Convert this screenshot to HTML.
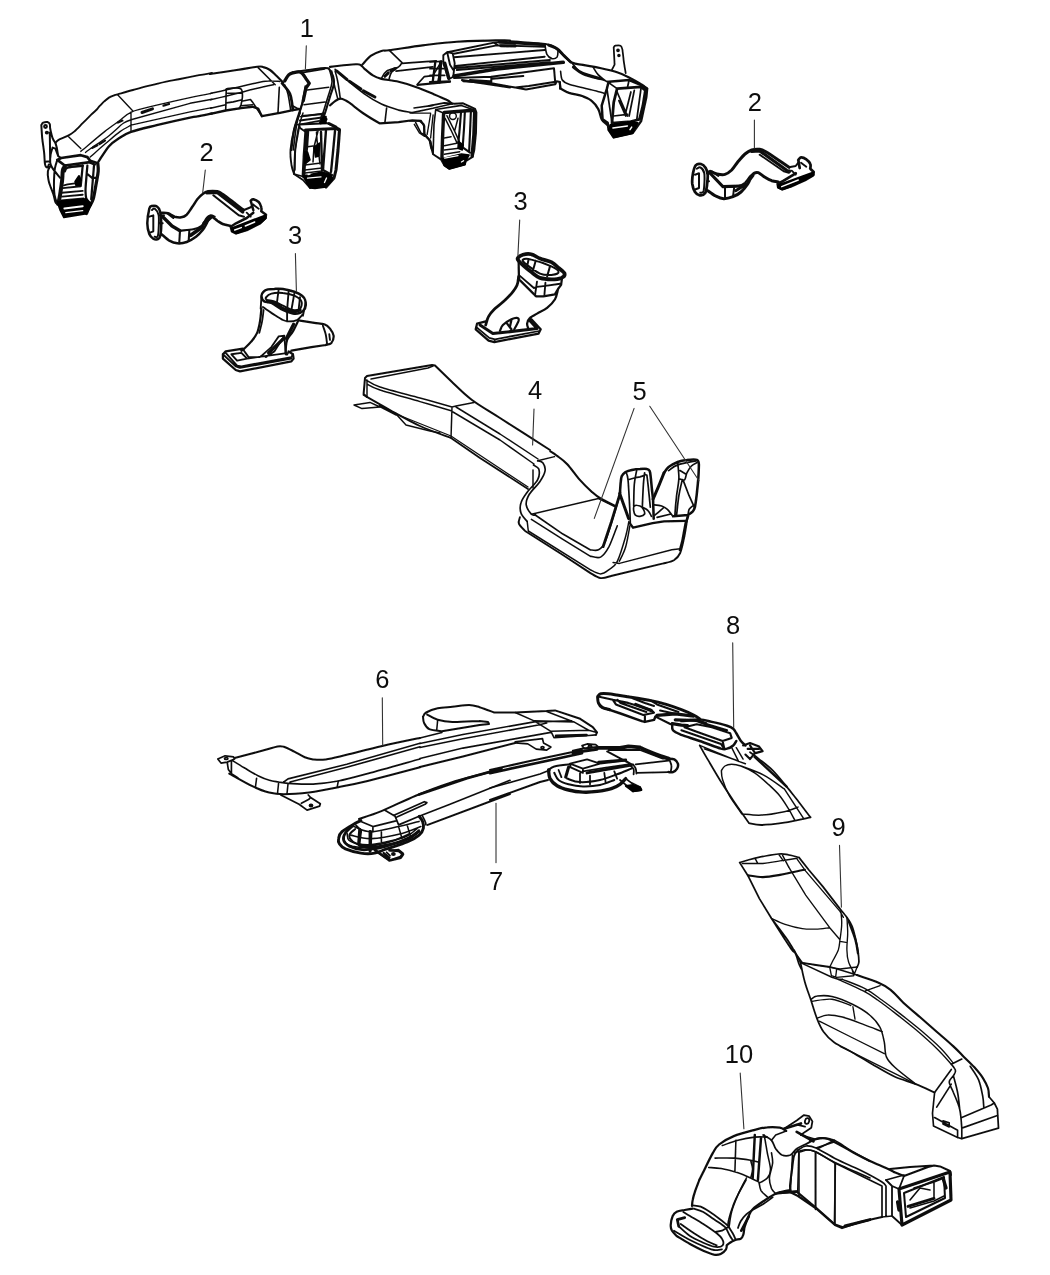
<!DOCTYPE html>
<html lang="en"><head><meta charset="utf-8"><title>Air Ducts Diagram</title>
<style>
html,body{margin:0;padding:0;background:#fff;}
body{width:1050px;height:1275px;overflow:hidden;}
svg{display:block;}
svg path,svg ellipse{stroke-linecap:round;stroke-linejoin:round;}
svg text{font-family:"Liberation Sans","DejaVu Sans",sans-serif;fill:#111;}
</style></head><body>
<svg width="1050" height="1275" viewBox="0 0 1050 1275">
<defs><filter id="soft" x="0" y="0" width="1050" height="1275" filterUnits="userSpaceOnUse"><feGaussianBlur stdDeviation="0.45"/></filter></defs>
<rect width="1050" height="1275" fill="#fff"/>
<g filter="url(#soft)">
<g id="p10a">
<path d="M699.2,1180.1C699.8,1179.0 700.1,1178.3 702.4,1173.8C704.7,1169.3 710.1,1157.7 712.9,1152.9C715.7,1148.0 715.7,1147.3 719.1,1144.5C722.6,1141.7 727.9,1138.5 733.8,1136.1C739.7,1133.7 749.2,1131.3 754.8,1129.8C760.3,1128.3 763.1,1127.6 767.3,1127.3C771.5,1126.9 776.8,1127.1 779.9,1127.7C783.0,1128.3 785.1,1130.3 786.2,1130.9M692.7,1208.7C691.3,1208.9 687.3,1209.5 684.7,1210.0C682.0,1210.5 678.7,1210.7 676.7,1211.7C674.7,1212.7 673.7,1213.7 672.7,1216.0C671.7,1218.3 670.8,1222.9 670.7,1225.3C670.6,1227.8 671.0,1228.9 672.0,1230.7C673.0,1232.4 675.9,1235.1 676.7,1236.0M676.7,1236.0C678.9,1237.3 685.6,1241.6 690.0,1244.0C694.4,1246.4 699.3,1248.9 703.3,1250.7C707.3,1252.4 711.1,1254.1 714.0,1254.7C716.9,1255.2 718.7,1254.9 720.7,1254.0C722.7,1253.1 725.0,1250.8 726.0,1249.3C727.0,1247.9 726.6,1246.0 726.7,1245.3M726.7,1245.3C727.2,1244.9 728.6,1243.6 730.0,1242.7C731.4,1241.8 733.6,1240.7 735.3,1240.0C737.1,1239.3 739.3,1239.6 740.7,1238.7C742.0,1237.8 742.7,1236.7 743.3,1234.7C744.0,1232.7 743.8,1229.8 744.7,1226.7C745.6,1223.6 747.3,1218.9 748.7,1216.0C750.0,1213.1 750.2,1211.8 752.7,1209.3C755.1,1206.9 759.3,1204.0 763.3,1201.3C767.3,1198.7 772.2,1195.2 776.7,1193.3C781.1,1191.4 787.8,1190.6 790.0,1190.0M699.3,1180.0C698.7,1181.8 696.4,1187.3 695.3,1190.7C694.2,1194.0 693.2,1197.4 692.7,1200.0C692.1,1202.6 692.1,1205.0 692.0,1206.0" stroke="#111" stroke-width="2.25" fill="none"/>
<path d="M763.1,1135.0C764.5,1135.9 769.4,1138.0 771.5,1140.3C773.6,1142.6 774.0,1146.2 775.7,1148.7C777.5,1151.1 779.6,1153.9 782.0,1155.0C784.4,1156.0 787.9,1156.0 790.4,1155.0C792.8,1153.9 794.2,1150.4 796.7,1148.7C799.1,1146.9 801.9,1146.0 805.0,1144.5C808.2,1142.9 812.7,1140.4 815.5,1139.2C818.3,1138.1 818.7,1137.6 821.8,1137.8C825.0,1137.9 829.5,1138.1 834.4,1140.3C839.3,1142.5 845.2,1147.3 851.1,1150.8C857.1,1154.3 866.9,1159.5 870.0,1161.2M678.7,1226.3C680.6,1227.9 685.9,1233.3 690.0,1236.0C694.1,1238.7 699.3,1240.9 703.3,1242.7C707.3,1244.4 711.1,1246.0 714.0,1246.7C716.9,1247.3 719.1,1247.1 720.7,1246.7C722.2,1246.2 723.1,1245.3 723.3,1244.0C723.6,1242.7 723.1,1240.4 722.0,1238.7C720.9,1236.9 719.8,1235.8 716.7,1233.3C713.6,1230.9 707.8,1226.9 703.3,1224.0C698.9,1221.1 693.3,1218.0 690.0,1216.0C686.7,1214.0 684.4,1212.7 683.3,1212.0M680.7,1224.0C682.9,1225.6 689.6,1230.4 694.0,1233.3C698.4,1236.2 703.6,1239.3 707.3,1241.3C711.1,1243.3 715.1,1244.7 716.7,1245.3M674.0,1230.7C676.7,1232.2 684.7,1237.2 690.0,1240.0C695.3,1242.8 702.0,1245.7 706.0,1247.3C710.0,1249.0 711.3,1249.7 714.0,1250.0C716.7,1250.3 720.7,1249.4 722.0,1249.3M692.7,1205.3C694.0,1205.6 697.8,1205.6 700.7,1206.7C703.6,1207.8 706.9,1210.0 710.0,1212.0C713.1,1214.0 716.7,1216.7 719.3,1218.7C722.0,1220.7 724.4,1222.7 726.0,1224.0C727.6,1225.3 728.2,1226.2 728.7,1226.7M694.0,1208.7C695.6,1209.2 700.0,1210.2 703.3,1212.0C706.7,1213.8 710.4,1216.9 714.0,1219.3C717.6,1221.8 722.6,1225.0 724.7,1226.7C726.8,1228.3 726.3,1228.9 726.7,1229.3M715.3,1232.0 L722.0,1230.7 L728.7,1226.7M728.7,1226.7C729.3,1227.8 731.6,1231.3 732.7,1233.3C733.8,1235.3 734.9,1237.8 735.3,1238.7M726.7,1229.3C727.2,1230.4 729.0,1234.2 730.0,1236.0C731.0,1237.8 732.2,1239.3 732.7,1240.0M738.0,1228.0C738.4,1226.9 739.3,1223.6 740.7,1221.3C742.0,1219.1 744.2,1216.4 746.0,1214.7C747.8,1212.9 748.4,1212.4 751.3,1210.7C754.2,1208.9 759.8,1206.2 763.3,1204.0C766.9,1201.8 771.1,1198.4 772.7,1197.3M784.1,1128.8 L796.7,1120.4 L804.0,1115.1 L809.2,1116.2 L812.4,1121.4 L811.3,1127.7 L805.0,1131.9 L800.9,1135.0M796.7,1124.6 L805.0,1126.7" stroke="#111" stroke-width="1.8" fill="none"/>
<path d="M786.2,1130.9 L775.7,1135.0 L771.5,1140.3M800.9,1135.0 L815.5,1139.2M722.3,1145.5C724.9,1144.7 732.6,1141.7 738.0,1140.3C743.4,1138.9 749.9,1137.7 754.8,1137.1C759.7,1136.6 765.2,1137.1 767.3,1137.1M794.6,1152.9C796.3,1152.3 801.6,1149.9 805.0,1149.7C808.5,1149.5 810.3,1149.5 815.5,1151.8C820.8,1154.1 827.4,1159.0 836.5,1163.3C845.6,1167.7 864.4,1175.6 870.0,1178.0M834.4,1140.3 L817.6,1148.7M792.5,1155.0 L790.4,1190.6M798.8,1152.9 L797.7,1192.7M815.5,1152.9 L815.5,1209.4M835.4,1163.3 L834.4,1224.1M715.0,1158.1C718.1,1158.1 727.9,1157.7 733.8,1158.1C739.7,1158.4 746.4,1159.5 750.6,1160.2C754.8,1160.9 757.6,1161.9 759.0,1162.3M708.7,1167.5C710.8,1167.7 716.3,1167.7 721.2,1168.6C726.1,1169.4 733.1,1171.2 738.0,1172.8C742.9,1174.3 747.1,1176.4 750.6,1178.0C754.1,1179.6 757.6,1181.5 759.0,1182.2M735.9,1140.3 L734.9,1171.7M764.2,1135.0C764.7,1138.0 766.3,1147.1 767.3,1152.9C768.4,1158.6 770.5,1165.4 770.5,1169.6C770.5,1173.8 769.3,1175.7 767.3,1178.0C765.4,1180.3 760.3,1182.4 759.0,1183.2M750.6,1160.2C750.9,1161.8 752.7,1166.7 752.7,1169.6C752.7,1172.6 750.9,1176.6 750.6,1178.0M771.5,1152.9C771.7,1154.6 772.9,1159.1 772.6,1163.3C772.2,1167.5 769.6,1173.8 769.4,1178.0C769.3,1182.2 770.5,1185.9 771.5,1188.5C772.6,1191.1 775.0,1192.8 775.7,1193.7M759.0,1182.2C759.3,1183.6 759.7,1188.1 761.0,1190.6C762.4,1193.0 766.3,1195.8 767.3,1196.9M746.4,1178.0C745.0,1180.8 740.4,1189.2 738.0,1194.8C735.6,1200.3 733.2,1206.3 731.7,1211.5C730.2,1216.8 729.6,1223.7 729.2,1226.2" stroke="#111" stroke-width="1.575" fill="none"/>
<path d="M775.7,1193.7 L796.7,1191.6 L815.5,1207.3 L834.4,1224.1 L842.8,1227.2 L870.0,1219.9" stroke="#111" stroke-width="2.025" fill="none"/>
<path d="M779.9,1192.7 L796.7,1191.6M844.9,1225.8 L870.0,1219.5M677.3,1219.6 L684.7,1217.6M677.3,1219.6 L678.7,1226.3M741.3,1230.7 L748.7,1216.7M784.1,1128.8 L800.9,1123.5M796.7,1131.9 L813.4,1141.3" stroke="#111" stroke-width="2.7" fill="none"/>
<path d="M754.8,1135.0 L752.7,1178.0M761.0,1138.2 L757.9,1180.1" stroke="#111" stroke-width="2.475" fill="none"/>
<path d="M746.0,1180.0C744.7,1182.4 740.2,1190.2 738.0,1194.7C735.8,1199.1 734.2,1202.4 732.7,1206.7C731.1,1210.9 729.4,1216.9 728.7,1220.0C727.9,1223.1 728.1,1224.4 728.0,1225.3" stroke="#111" stroke-width="1.6875" fill="none"/>
<ellipse cx="807.1" cy="1121.0" rx="2.1" ry="2.9" transform="rotate(15.0 807.1 1121.0)" stroke="#111" stroke-width="1.8" fill="none"/>
</g>
<g id="p10b">
<path d="M810.0,1141.0C811.7,1140.6 817.0,1138.7 820.0,1138.4C823.0,1138.1 824.7,1137.9 828.0,1139.0C831.3,1140.1 835.3,1142.5 840.0,1145.0C844.7,1147.5 851.0,1151.3 856.0,1154.0C861.0,1156.7 865.0,1158.7 870.0,1161.0C875.0,1163.3 882.0,1166.2 886.0,1168.0C890.0,1169.8 892.7,1171.3 894.0,1172.0M790.0,1192.0 L798.0,1196.0 L815.6,1208.0 L835.0,1225.0 L842.0,1228.0 L860.0,1222.0 L882.0,1217.0" stroke="#111" stroke-width="2.25" fill="none"/>
<path d="M798.0,1150.0C799.3,1149.3 803.0,1146.3 806.0,1146.0C809.0,1145.7 811.0,1145.8 816.0,1148.0C821.0,1150.2 828.7,1155.3 836.0,1159.0C843.3,1162.7 852.3,1166.2 860.0,1170.0C867.7,1173.8 877.7,1179.3 882.0,1182.0C886.3,1184.7 885.3,1185.3 886.0,1186.0M800.0,1152.0C801.3,1151.7 805.3,1150.0 808.0,1150.0C810.7,1150.0 811.5,1149.8 816.0,1152.0C820.5,1154.2 831.8,1161.2 835.0,1163.0M835.0,1163.0 L882.0,1186.0M816.0,1148.0 L834.0,1142.0M886.0,1180.0 L904.0,1175.0M882.0,1186.0 L882.0,1217.0M886.0,1186.0 L886.0,1216.0M882.0,1217.0 L892.0,1216.0" stroke="#111" stroke-width="1.6875" fill="none"/>
<path d="M798.0,1150.0C797.3,1151.0 795.0,1152.7 794.0,1156.0C793.0,1159.3 792.7,1165.0 792.0,1170.0C791.3,1175.0 790.2,1182.3 790.0,1186.0C789.8,1189.7 790.8,1191.0 791.0,1192.0M890.0,1169.0 L910.0,1167.0 L934.0,1165.6 L940.0,1166.4 L950.0,1171.0 L951.0,1175.0M894.0,1172.0 L904.0,1176.0 L928.0,1167.0 L934.0,1165.6M904.0,1193.0 L944.0,1177.0 L945.0,1198.0 L906.0,1217.0Z" stroke="#111" stroke-width="2.025" fill="none"/>
<path d="M799.0,1152.0 L799.0,1196.0M815.6,1152.0 L815.6,1208.0M835.0,1163.0 L835.0,1225.0M910.0,1200.0 L920.0,1188.0 L930.0,1190.0M914.0,1188.0 L934.0,1182.0 L944.0,1178.0M934.0,1182.0 L934.0,1198.0M910.0,1208.0 L934.0,1201.0 L944.0,1196.0" stroke="#111" stroke-width="1.575" fill="none"/>
<path d="M899.0,1189.0 L950.0,1172.0 L951.0,1200.0 L902.0,1225.0Z" stroke="#111" stroke-width="3.15" fill="none"/>
<path d="M892.0,1186.0 L899.0,1189.0M892.0,1186.0 L892.0,1216.0 L902.0,1225.0M886.0,1180.0 L892.0,1186.0M904.0,1176.0 L899.0,1189.0" stroke="#111" stroke-width="1.8" fill="none"/>
<path d="M908.0,1206.4 L934.0,1198.4" stroke="#111" stroke-width="2.9250000000000003" fill="none"/>
<path d="M897.6,1202.0 L899.0,1210.0M943.6,1180.0 L946.0,1188.0" stroke="#111" stroke-width="3.375" fill="none"/>
</g>
<g id="p1a">
<path d="M55.4,142.9C55.9,142.4 56.2,141.3 58.2,140.1C60.2,138.9 64.9,137.3 67.6,135.9C70.3,134.5 71.7,133.7 74.2,131.6C76.7,129.5 79.9,126.0 82.7,123.2C85.5,120.4 88.9,117.0 91.2,114.7C93.5,112.4 95.4,110.9 96.8,109.5C98.2,108.1 98.2,107.5 99.5,106.2C100.8,104.9 102.7,102.8 104.3,101.4C105.9,100.0 107.4,98.6 109.0,97.6C110.6,96.6 112.4,96.0 113.8,95.5C115.2,95.0 114.4,95.2 117.6,94.3C120.8,93.4 128.0,91.3 132.9,90.0C137.8,88.7 141.6,87.6 147.1,86.2C152.6,84.8 160.7,82.8 166.2,81.6C171.7,80.4 174.5,80.1 180.0,79.0C185.5,77.9 193.7,76.2 199.0,75.2C204.3,74.2 209.8,73.4 212.0,73.0M62.9,188.1 L80.8,186.2M62.0,192.8 L82.7,190.9M62.0,196.6 L82.7,194.7M61.1,200.4 L83.6,198.5M63.9,185.3 L67.6,184.4 L75.2,183.4" stroke="#111" stroke-width="1.875" fill="none"/>
<path d="M98.6,161.4C100.3,158.9 105.7,150.0 109.0,146.2C112.3,142.4 114.9,141.0 118.6,138.6C122.3,136.2 124.7,134.1 131.0,131.9C137.3,129.7 146.9,127.6 156.7,125.2C166.5,122.8 182.9,119.1 190.0,117.6C197.1,116.1 195.3,116.9 199.0,116.2C202.7,115.5 209.8,113.9 212.0,113.4" stroke="#111" stroke-width="2.375" fill="none"/>
<path d="M80.8,151.4C81.8,150.6 82.6,149.9 86.5,146.7C90.4,143.4 99.0,136.1 104.3,131.9C109.6,127.7 114.0,124.7 118.6,121.4C123.2,118.1 125.6,114.6 131.9,111.9C138.2,109.2 147.0,107.6 156.7,105.2C166.4,102.8 180.8,99.6 190.0,97.6C199.2,95.6 208.3,93.9 212.0,93.2M85.5,152.4C86.2,151.8 86.1,151.8 90.0,149.0C93.9,146.2 103.5,140.0 109.0,135.7C114.5,131.4 119.5,126.0 123.3,123.3C127.1,120.6 130.5,120.1 131.9,119.5M131.9,119.5 L190.0,103.3 L212.0,99.2M90.2,157.1C92.7,154.9 100.0,148.2 105.0,144.0C110.0,139.8 115.7,134.7 120.0,131.6C124.3,128.5 129.2,126.3 131.0,125.2M131.0,125.2 L190.0,111.9 L212.0,107.6M131.0,111.9 L131.0,131.9M117.6,94.8 L132.9,111.0M68.6,136.8 L80.8,148.6" stroke="#111" stroke-width="1.375" fill="none"/>
<path d="M142.0,112.5 L152.5,108.8" stroke="#111" stroke-width="3.0" fill="none"/>
<path d="M163.5,105.6 L169.0,104.0M118.0,122.6 L122.4,120.6M99.5,144.0 L105.0,140.6M92.5,147.8 L97.4,145.3M87.4,165.5C87.3,167.3 86.8,171.6 86.5,175.9C86.2,180.1 85.5,186.9 85.5,190.9C85.5,195.0 86.3,198.8 86.5,200.4M82.7,165.5 L80.8,185.3M90.2,162.7 L94.9,164.6M87.4,174.0 L92.1,177.8 L95.9,177.8M94.0,165.5 L91.2,199.4" stroke="#111" stroke-width="2.25" fill="none"/>
<path d="M41.3,125.1C41.6,124.7 42.2,123.2 43.2,122.7C44.2,122.2 46.3,121.8 47.4,122.0C48.5,122.3 49.3,123.0 49.8,124.1C50.2,125.2 49.8,126.5 50.2,128.8C50.7,131.2 51.7,135.9 52.6,138.2C53.5,140.6 54.9,142.2 55.4,142.9M41.3,125.1C41.5,127.3 41.8,133.7 42.2,138.2C42.7,142.8 43.6,148.0 44.1,152.4C44.6,156.7 44.5,162.1 45.1,164.6C45.6,167.1 46.8,167.4 47.4,167.4C48.0,167.4 48.6,165.1 48.8,164.6M49.8,132.6 L50.2,162.7M45.5,161.8 L49.8,161.3M52.6,147.6 L55.4,148.6 L58.2,156.1 L61.1,158.0M52.6,147.6C52.3,148.7 51.1,151.7 50.7,154.2C50.3,156.7 49.9,160.4 50.2,162.7C50.5,165.1 50.9,165.8 52.6,168.4C54.2,170.9 58.9,176.2 60.1,177.8M50.2,166.5C49.8,167.3 48.2,169.0 47.9,171.2C47.6,173.4 47.9,177.0 48.4,179.6C48.8,182.3 49.8,184.7 50.7,187.2C51.6,189.7 52.7,192.2 53.5,194.7C54.3,197.2 54.8,200.7 55.4,202.2C56.0,203.8 57.0,203.8 57.3,204.1M57.3,159.9C56.9,161.3 55.5,164.9 54.9,168.4C54.4,171.8 54.1,176.2 54.0,180.6C53.9,185.0 53.9,190.8 54.5,194.7C55.0,198.6 56.8,202.5 57.3,204.1M55.4,142.9 L56.8,147.6 L58.2,156.1" stroke="#111" stroke-width="2.0" fill="none"/>
<path d="M57.3,159.9 L61.1,158.0 L80.8,155.2 L87.4,157.1 L90.2,160.8 L97.8,163.2M57.3,159.9 L64.8,165.5 L90.2,162.2" stroke="#111" stroke-width="2.75" fill="none"/>
<path d="M65.0,166.0C64.7,166.7 63.4,167.6 62.9,170.2C62.4,172.8 62.5,177.5 62.0,181.5C61.5,185.6 60.7,190.9 60.1,194.7C59.5,198.5 58.5,202.5 58.2,204.1" stroke="#111" stroke-width="4.0" fill="none"/>
<path d="M64.8,171.2C65.3,170.6 64.7,168.5 67.6,167.6C70.6,166.7 80.2,166.0 82.7,165.7" stroke="#111" stroke-width="2.5" fill="none"/>
<path d="M97.8,163.2C97.8,164.5 98.5,167.5 98.2,171.2C97.9,174.9 96.7,180.6 95.9,185.3C95.0,190.0 94.2,195.8 93.1,199.4C92.0,203.0 90.4,204.6 89.3,206.9C88.2,209.3 86.9,212.4 86.5,213.5" stroke="#111" stroke-width="3.25" fill="none"/>
<path d="M57.3,201.8 L86.5,198.9 L91.2,204.1 L86.5,213.5 L63.9,217.3 L60.1,209.8ZM75.2,181.5 L78.9,175.9 L80.8,179.6 L79.9,185.3 L76.1,185.3Z" stroke="#000" stroke-width="1.875" fill="#000"/>
<path d="M64.4,208.4 L82.7,206.2" stroke="#fff" stroke-width="2.0" fill="none"/>
<path d="M65.8,212.6 L82.7,210.7" stroke="#fff" stroke-width="1.25" fill="none"/>
<ellipse cx="45.5" cy="126.5" rx="1.4" ry="1.4" transform="rotate(0.0 45.5 126.5)" stroke="#111" stroke-width="2.0" fill="none"/>
<ellipse cx="46.9" cy="132.6" rx="1.1" ry="0.9" transform="rotate(0.0 46.9 132.6)" stroke="#111" stroke-width="2.0" fill="none"/>
</g>
<g id="p1b">
<path d="M210.0,74.0C214.4,73.3 228.8,71.2 236.7,70.0C244.6,68.8 252.9,67.2 257.3,66.7C261.8,66.2 261.2,66.5 263.3,67.1C265.4,67.6 267.8,68.5 270.0,70.0C272.2,71.5 274.4,73.9 276.7,76.0C278.9,78.1 282.2,81.6 283.3,82.7M303.3,100.7C302.4,103.3 299.6,111.8 298.0,116.7C296.4,121.6 295.1,124.4 294.0,130.0C292.9,135.6 291.8,146.7 291.3,150.0M292.7,72.4C295.3,72.0 303.3,70.7 308.7,70.0C314.0,69.3 321.1,68.0 324.7,68.0C328.2,68.0 328.4,67.9 330.0,70.3C331.6,72.6 334.0,77.6 334.0,82.0C334.0,86.4 331.6,91.3 330.0,96.7C328.4,102.0 326.2,109.6 324.7,114.0C323.1,118.4 321.3,121.8 320.7,123.3" stroke="#111" stroke-width="2.125" fill="none"/>
<path d="M258.1,67.6 L275.2,84.8M210.5,93.5C213.0,92.9 218.1,91.8 225.7,90.0C233.3,88.2 249.0,84.4 256.2,82.9C263.3,81.3 264.6,81.2 268.6,81.0C272.5,80.7 278.1,81.3 280.0,81.4M210.5,99.8C213.0,99.2 220.3,97.5 225.7,96.2C231.1,94.9 237.8,93.2 242.9,91.9C247.9,90.6 251.1,89.8 256.2,88.6C261.3,87.4 270.5,85.4 273.3,84.8M210.5,108.2 L225.7,104.8" stroke="#111" stroke-width="1.5" fill="none"/>
<path d="M210.5,113.9 L225.7,110.5 L241.0,108.1 L252.4,106.7M252.4,106.7 L258.1,108.6 L261.9,116.2M261.9,116.2 L277.1,113.3 L280.0,112.9M280.0,112.9 L293.0,110.2 L299.0,109.0" stroke="#111" stroke-width="2.375" fill="none"/>
<path d="M242.9,101.0 L250.5,99.5 L252.4,101.9 L261.9,116.2M225.7,90.0C226.0,89.8 225.4,88.9 227.6,88.6C229.8,88.3 236.7,87.8 239.0,88.1C241.4,88.4 241.3,89.0 241.9,90.5C242.5,92.0 242.5,94.8 242.4,97.1C242.2,99.5 241.5,102.9 241.0,104.8C240.4,106.7 239.4,107.9 239.0,108.6M226.2,90.5 L225.7,110.5M227.6,93.3 L241.0,93.3M226.7,102.9 L233.3,101.9 L241.0,100.0M241.0,105.7 L252.4,104.8M279.3,87.3 L278.0,112.7M284.7,84.9C285.2,86.4 287.0,89.8 288.0,94.0C289.0,98.2 290.2,107.3 290.7,110.0M292.9,106.0 L298.0,108.7M300.7,72.9 L324.7,68.9M307.3,90.0 L328.7,87.3M304.0,104.7 L324.9,102.0M300.7,116.7 L321.3,113.7M298.0,124.7 L319.3,120.9M305.3,86.0C304.8,88.9 303.4,96.9 302.0,103.3C300.6,109.8 298.1,116.9 296.7,124.7C295.2,132.4 293.9,145.8 293.3,150.0M330.0,71.3C330.3,73.1 332.3,77.8 332.0,82.0C331.7,86.2 329.6,91.3 328.0,96.7C326.4,102.0 323.6,111.1 322.7,114.0" stroke="#111" stroke-width="1.625" fill="none"/>
<path d="M282.0,83.3C283.3,85.1 288.2,89.6 290.0,94.0C291.8,98.4 292.4,107.3 292.9,110.0" stroke="#111" stroke-width="2.75" fill="none"/>
<path d="M284.7,80.9C285.3,79.9 287.3,76.3 288.7,74.9C290.0,73.6 290.7,73.4 292.7,72.9C294.7,72.5 298.4,71.3 300.7,72.3C302.9,73.2 304.6,76.8 306.0,78.7C307.4,80.5 308.8,82.6 309.3,83.3M309.3,83.3 L306.0,88.0 L303.3,100.7" stroke="#111" stroke-width="3.25" fill="none"/>
<path d="M322.7,114.0 L320.7,122.0 L326.0,119.3" stroke="#111" stroke-width="3.125" fill="none"/>
</g>
<g id="p1c">
<path d="M300.0,113.0C299.0,115.8 295.6,123.8 294.0,130.0C292.4,136.2 290.9,144.2 290.5,150.0C290.1,155.8 290.9,161.0 291.5,165.0C292.1,169.0 293.6,172.5 294.0,174.0M294.0,174.0 L303.0,180.0 L310.0,188.0" stroke="#111" stroke-width="1.87" fill="none"/>
<path d="M303.0,113.0C302.2,115.8 299.2,123.8 298.0,130.0C296.8,136.2 296.0,143.3 295.5,150.0C295.0,156.7 295.1,166.7 295.0,170.0" stroke="#111" stroke-width="1.43" fill="none"/>
<path d="M299.0,124.5 L327.0,123.2 L339.5,129.0M299.0,124.5 L300.0,128.0 L305.5,131.8M300.0,120.5 L322.0,117.5M302.0,116.0 L323.0,114.0" stroke="#111" stroke-width="1.98" fill="none"/>
<path d="M305.5,130.0 L336.0,128.5 L339.5,130.0 L338.0,150.0 L336.0,170.0 L334.0,178.0 L326.0,187.0" stroke="#111" stroke-width="3.08" fill="none"/>
<path d="M306.2,132.0 L304.5,156.0 L303.5,176.0" stroke="#111" stroke-width="3.74" fill="none"/>
<path d="M329.0,123.5 L336.0,127.0" stroke="#111" stroke-width="2.86" fill="none"/>
<path d="M299.0,128.0 L295.0,150.0 L294.0,174.0M294.0,174.0 L303.0,176.5" stroke="#111" stroke-width="1.76" fill="none"/>
<path d="M308.0,132.0 L307.0,147.0 L305.0,165.0M335.0,131.0 L333.0,152.0 L331.0,172.0M326.0,130.0 L324.5,150.0 L323.0,170.0M321.0,132.0 L321.5,150.0 L322.0,170.0M323.0,170.0 L332.0,175.0" stroke="#111" stroke-width="2.42" fill="none"/>
<path d="M318.0,131.0 L314.0,147.0 L313.0,162.0M316.5,132.0 L317.0,140.0 L320.0,164.0M306.0,147.0 L313.0,146.0M305.0,165.0 L321.0,163.0M305.0,170.0 L322.0,168.0M305.0,173.0 L322.0,171.0" stroke="#111" stroke-width="1.54" fill="none"/>
<path d="M314.0,147.0 L319.5,143.0 L319.0,156.0 L315.5,157.0ZM304.5,152.0 L307.5,152.0 L310.0,160.0 L305.0,164.0ZM303.0,176.0 L322.0,172.0 L331.0,175.0 L333.0,179.0 L326.0,187.0 L315.0,188.5 L310.0,188.0ZM323.0,117.0 L326.0,116.5 L326.0,123.2 L320.0,123.2Z" stroke="#000" stroke-width="1.54" fill="#000"/>
<path d="M307.5,178.2 L321.0,176.8M324.5,182.5 L326.5,178.0M308.0,174.5 L310.0,174.2" stroke="#fff" stroke-width="1.32" fill="none"/>
</g>
<g id="p1d">
<path d="M330.0,66.9C334.3,66.4 350.6,64.5 355.7,64.3C360.9,64.0 359.4,64.6 360.9,65.3C362.3,66.0 362.3,66.9 364.3,68.6C366.3,70.3 370.0,73.7 372.9,75.4C375.7,77.1 377.1,77.8 381.4,78.9C385.7,79.9 392.9,80.4 398.6,81.8C404.3,83.1 410.0,84.9 415.7,86.9C421.4,88.9 427.7,91.6 432.9,93.8C438.0,95.9 443.4,98.1 446.6,99.8C449.8,101.4 451.1,103.1 452.1,103.7M362.6,64.3C364.0,62.9 368.0,57.9 371.1,55.7C374.3,53.5 378.4,51.8 381.4,50.9C384.4,50.0 382.3,51.1 389.1,50.2C396.0,49.3 411.3,46.9 422.6,45.4C433.9,44.0 443.7,42.5 456.9,41.7C470.0,40.8 492.6,40.5 501.4,40.3C510.3,40.1 508.6,40.6 510.0,40.6M330.0,105.4C330.9,104.7 333.4,102.3 335.1,101.1C336.9,100.0 338.6,98.7 340.3,98.6C342.0,98.4 343.7,99.4 345.4,100.3C347.1,101.1 347.4,101.4 350.6,103.7C353.7,106.0 359.4,110.7 364.3,114.0C369.1,117.3 377.1,121.9 379.7,123.4M379.7,123.4 L398.6,122.1 L412.3,120.3 L420.9,120.9M420.9,120.9 L424.3,126.0 L424.3,134.6 L429.4,139.7 L432.9,150.0M417.4,84.9 L450.0,81.8M462.0,80.1 L510.0,87.4" stroke="#111" stroke-width="2.125" fill="none"/>
<path d="M389.1,50.2 L402.0,62.6M402.0,62.6C401.4,63.3 401.1,65.4 398.6,66.9C396.0,68.3 389.4,69.2 386.6,71.1C383.7,73.1 382.3,77.1 381.4,78.3M398.6,66.9C397.4,67.7 393.3,70.0 391.7,72.0C390.1,74.0 389.6,77.7 389.1,78.9M335.1,69.4C337.1,71.2 342.3,76.0 347.1,80.1C352.0,84.1 358.6,89.8 364.3,93.8C370.0,97.8 375.7,101.3 381.4,104.1C387.1,106.8 393.4,108.6 398.6,110.1C403.7,111.5 410.0,112.2 412.3,112.6M412.3,112.6 L432.9,108.3 L452.1,103.7M340.3,98.6C339.9,95.7 338.6,86.0 337.7,81.4C336.9,76.9 335.6,72.9 335.1,71.1M337.7,98.6C337.1,96.3 335.3,89.4 334.3,84.9C333.3,80.3 332.1,73.4 331.7,71.1M386.6,108.0 L384.9,122.6M414.0,108.0 L432.9,105.4M415.7,122.6 L420.9,132.9 L426.0,135.4M402.0,63.4 L436.3,60.9M396.0,71.1 L432.9,66.9M417.4,84.3 L424.3,76.6 L432.9,75.6 L439.7,64.3 L441.4,61.2M432.9,75.6 L432.9,81.4M439.7,72.9 L438.0,81.4" stroke="#111" stroke-width="1.625" fill="none"/>
<path d="M336.9,71.1 L347.1,79.7M349.7,81.4 L360.9,89.1M363.4,90.9 L374.9,97.0M384.9,76.3 L388.3,72.9M390.9,71.1 L395.1,68.6" stroke="#111" stroke-width="3.0" fill="none"/>
</g>
<g id="p1e">
<path d="M428.9,105.9 L444.3,102.9 L454.6,103.7 L463.1,103.3 L475.1,108.9 L476.4,112.3 L476.0,132.9 L474.3,150.0 L472.6,156.9 L465.7,161.1 L464.9,164.6 L449.4,168.9 L444.3,165.4 L440.9,159.4 L433.1,154.3 L430.6,145.7 L429.7,140.6" stroke="#111" stroke-width="1.9124999999999999" fill="none"/>
<path d="M435.7,109.7 L434.0,124.3 L433.1,154.3M435.7,109.5 L461.4,105.4 L473.4,109.7M435.7,109.7 L443.4,113.1" stroke="#111" stroke-width="1.59375" fill="none"/>
<path d="M443.6,113.6 L442.6,136.3 L441.9,158.6M444.3,112.5 L473.4,110.2M474.7,111.4 L473.9,134.6 L472.1,156.0" stroke="#111" stroke-width="3.4" fill="none"/>
<path d="M464.9,111.4 L464.0,128.6 L462.7,146.6M461.0,112.3 L459.7,128.6 L458.4,142.3M470.9,111.4 L470.0,132.9 L469.1,151.7M462.7,147.4 L470.0,152.6" stroke="#111" stroke-width="2.125" fill="none"/>
<path d="M445.1,118.3 L451.1,130.3 L457.1,143.1M446.9,115.7 L454.6,131.1 L459.3,141.4M444.3,138.0 L451.1,136.7M444.3,145.7 L458.0,143.1M444.3,150.0 L458.9,148.3M444.3,154.3 L459.7,151.7M458.0,118.3 L454.6,131.1" stroke="#111" stroke-width="1.4875" fill="none"/>
<path d="M441.9,158.6 L461.4,153.9 L469.1,155.1 L465.7,161.1 L464.9,164.6 L449.4,168.9 L444.3,165.4ZM458.4,141.4 L463.1,144.9 L462.3,150.0 L458.0,148.3Z" stroke="#000" stroke-width="1.4875" fill="#000"/>
<path d="M444.7,158.1 L458.0,155.6M461.4,162.0 L463.6,160.7" stroke="#fff" stroke-width="1.275" fill="none"/>
<path d="M410.0,120.9 L419.4,120.9 L423.7,124.3 L424.6,134.6 L430.6,141.4 L431.4,148.3" stroke="#111" stroke-width="1.80625" fill="none"/>
<path d="M414.3,124.3 L419.4,132.9 L424.6,136.3M430.6,114.0 L427.1,134.6M433.1,114.9 L430.6,138.0M410.0,113.1 L430.6,113.1" stroke="#111" stroke-width="1.3812499999999999" fill="none"/>
<ellipse cx="452.9" cy="116.1" rx="3.4" ry="3.4" transform="rotate(0.0 452.9 116.1)" stroke="#111" stroke-width="1.4875" fill="none"/>
</g>
<g id="p1f">
<path d="M510.0,41.3C512.1,41.4 517.0,41.8 522.9,42.3C528.7,42.7 540.3,43.4 545.1,44.0C550.0,44.6 549.7,44.6 552.0,45.7C554.3,46.9 556.6,48.9 558.9,50.9C561.1,52.9 563.4,55.7 565.7,57.7C568.0,59.7 569.7,61.7 572.6,62.9C575.4,64.1 578.3,64.1 582.9,64.9C587.4,65.8 594.3,66.8 600.0,68.0C605.7,69.2 612.3,70.7 617.1,72.3C622.0,73.9 625.1,75.4 629.1,77.4C633.1,79.4 638.1,82.4 641.1,84.3C644.1,86.1 646.1,87.9 647.1,88.6M559.7,82.6 L560.6,88.6M560.6,88.6C562.0,89.3 565.4,91.6 569.1,92.9C572.9,94.1 579.1,95.0 582.9,96.3C586.6,97.6 588.9,98.4 591.4,100.6C594.0,102.7 596.6,106.0 598.3,109.1C600.0,112.3 600.3,116.9 601.7,119.4C603.1,122.0 606.0,123.7 606.9,124.6" stroke="#111" stroke-width="2.25" fill="none"/>
<path d="M548.6,45.2C550.0,45.8 554.6,46.9 557.1,48.6C559.7,50.3 561.7,53.2 564.0,55.5C566.3,57.8 569.7,61.2 570.9,62.3M617.1,88.6 L641.1,86.9 L645.4,90.3 L642.9,105.7 L639.4,119.4 L630.9,121.5 L612.0,123.2 L613.7,102.3 L617.1,88.6" stroke="#111" stroke-width="2.75" fill="none"/>
<path d="M545.1,45.7C545.4,47.1 545.7,52.1 546.9,54.3C548.0,56.4 550.3,58.1 552.0,58.6C553.7,59.0 556.1,58.1 557.1,56.9C558.1,55.6 557.9,51.9 558.0,50.9M560.6,71.4C560.9,72.9 560.9,77.9 562.3,80.0C563.7,82.1 565.7,83.0 569.1,84.3C572.6,85.6 577.7,86.4 582.9,87.7C588.0,89.0 596.3,91.0 600.0,92.0C603.7,93.0 604.3,93.4 605.1,93.7M572.6,63.7C573.7,65.0 576.3,69.3 579.4,71.4C582.6,73.6 588.0,75.3 591.4,76.6C594.9,77.9 596.9,78.1 600.0,79.1C603.1,80.1 608.6,82.0 610.3,82.6M593.1,67.1C594.0,68.4 596.0,72.4 598.3,74.9C600.6,77.3 605.4,80.6 606.9,81.7" stroke="#111" stroke-width="1.625" fill="none"/>
<path d="M573.4,67.1C575.0,68.2 578.4,71.6 582.9,73.5C587.3,75.4 597.1,77.8 600.0,78.6" stroke="#111" stroke-width="3.0" fill="none"/>
<path d="M613.7,47.4C614.0,47.1 614.3,46.0 615.4,45.7C616.6,45.4 619.4,45.1 620.6,45.7C621.7,46.3 621.7,46.3 622.3,49.1C622.9,52.0 623.4,58.9 624.0,62.9C624.6,66.9 625.4,71.4 625.7,73.1M613.7,47.4 L614.6,64.6 L612.0,69.7M608.6,82.6 L617.1,88.6M606.9,88.6 L612.0,122.9M618.9,100.6 L625.7,116.0M617.1,92.0 L627.4,116.0M630.9,92.0 L625.7,112.6M634.3,90.3 L629.1,116.0M641.1,87.7 L636.9,118.6M613.7,116.0 L627.4,114.3M629.1,80.0 L627.4,87.7" stroke="#111" stroke-width="1.75" fill="none"/>
<path d="M608.6,81.7 L629.1,80.0 L641.1,85.1 L647.1,88.6 L646.3,97.1 L641.1,121.1 L632.6,133.1 L613.7,137.4 L608.6,129.7 L607.7,122.9 L602.6,119.4 L601.7,105.7 L606.9,88.6 L608.6,81.7" stroke="#111" stroke-width="2.5" fill="none"/>
<path d="M610.3,124.9 L630.9,121.5 L637.7,122.9 L632.6,133.1 L613.7,137.4 L608.6,129.7Z" stroke="#000" stroke-width="1.75" fill="#000"/>
<path d="M612.9,128.0 L627.4,125.9M630.0,129.7 L631.7,127.1" stroke="#fff" stroke-width="1.5" fill="none"/>
<ellipse cx="618.0" cy="50.3" rx="1.0" ry="1.0" transform="rotate(0.0 618.0 50.3)" stroke="#111" stroke-width="1.75" fill="none"/>
<ellipse cx="618.9" cy="55.5" rx="0.9" ry="0.9" transform="rotate(0.0 618.9 55.5)" stroke="#111" stroke-width="1.75" fill="none"/>
</g>
<g id="p1g">
<path d="M448.7,52.0 L494.0,42.7 L499.3,42.0M452.7,54.0 L496.7,45.3 L544.7,46.7M494.0,42.7 L498.0,45.3M454.0,57.3 L544.7,50.0M455.3,66.0 L544.7,56.7M455.3,68.0 L550.0,60.0M456.7,70.0 L550.0,62.3M443.3,55.3 L447.3,52.0 L452.7,53.3 L454.7,63.3 L453.3,76.7 L448.7,79.3 L443.3,63.3ZM447.3,52.7 L450.0,64.7 L453.3,70.0" stroke="#111" stroke-width="1.875" fill="none"/>
<path d="M499.3,42.3 L512.7,42.7 L544.7,44.7M500.7,45.7 L515.3,46.0" stroke="#111" stroke-width="3.0" fill="none"/>
<path d="M444.7,63.3 L448.7,78.0M454.0,76.0 L496.7,68.9 L563.3,62.3" stroke="#111" stroke-width="3.5" fill="none"/>
<path d="M454.0,78.0 L491.3,76.7 L491.3,83.3M463.3,81.3 L491.3,83.3 L515.3,87.6 L526.0,89.6 L555.3,84.3 L556.7,81.3 L560.0,82.0 L560.0,88.7M491.3,76.7 L554.0,68.3 L555.3,83.3M492.7,78.7 L523.3,76.0M515.3,87.6 L528.7,86.0 L554.0,82.0M470.0,80.0 L490.0,81.3" stroke="#111" stroke-width="2.0" fill="none"/>
<path d="M430.0,62.0 L442.0,61.3M430.0,68.7 L443.3,68.7M430.0,75.3 L444.7,75.3" stroke="#111" stroke-width="1.75" fill="none"/>
<path d="M430.0,82.0 L450.0,81.3M435.3,62.0 L432.7,82.0" stroke="#111" stroke-width="2.25" fill="none"/>
<path d="M440.7,62.0 L439.3,82.0" stroke="#111" stroke-width="3.25" fill="none"/>
</g>
<g id="p2a">
<path d="M162.0,212.7C163.0,212.8 165.9,212.7 168.0,213.3C170.1,214.0 172.4,216.0 174.7,216.7C176.9,217.3 179.3,217.7 181.3,217.3C183.3,217.0 184.9,216.3 186.7,214.7C188.4,213.0 190.2,209.9 192.0,207.3C193.8,204.8 195.6,201.6 197.3,199.3C199.1,197.1 200.9,195.3 202.7,194.0C204.4,192.7 205.6,191.8 208.0,191.3C210.4,190.9 214.9,190.9 217.3,191.3C219.8,191.8 220.0,192.2 222.7,194.0C225.3,195.8 229.8,199.3 233.3,202.0C236.9,204.7 242.2,208.7 244.0,210.0M161.3,234.0C162.7,235.1 166.7,239.1 169.3,240.7C172.0,242.2 174.4,243.1 177.3,243.3C180.2,243.6 183.6,243.1 186.7,242.0C189.8,240.9 193.3,238.7 196.0,236.7C198.7,234.7 200.9,232.2 202.7,230.0C204.4,227.8 205.6,225.3 206.7,223.3C207.8,221.3 208.4,219.1 209.3,218.0C210.2,216.9 210.7,216.2 212.0,216.7C213.3,217.1 215.6,219.4 217.3,220.7C219.1,221.9 220.4,223.1 222.7,224.0C224.9,224.9 229.3,225.7 230.7,226.0M149.3,208.7C150.1,205.8 150.7,206.3 152.0,206.0C153.3,205.7 156.0,205.8 157.3,206.7C158.7,207.6 159.3,208.6 160.0,211.3C160.7,214.1 161.3,219.1 161.3,223.3C161.3,227.6 160.7,234.0 160.0,236.7C159.3,239.3 158.4,239.0 157.3,239.3C156.2,239.7 154.7,239.6 153.3,238.7C152.0,237.8 150.3,236.6 149.3,234.0C148.3,231.4 147.3,227.6 147.3,223.3C147.3,219.1 148.6,211.6 149.3,208.7ZM250.7,200.7C251.1,200.4 252.0,199.1 253.3,199.3C254.7,199.6 257.3,200.7 258.7,202.0C260.0,203.3 260.9,205.8 261.3,207.3C261.8,208.9 261.3,210.7 261.3,211.3M261.3,211.3 L266.0,214.7 L265.3,218.0 L260.0,223.3 L246.7,230.0 L236.0,233.3 L232.0,231.3 L230.7,226.7 L236.0,223.3 L246.7,218.0 L253.3,212.7M250.7,200.7 L253.3,210.0" stroke="#111" stroke-width="2.5200000000000005" fill="none"/>
<path d="M206.7,192.7 L217.3,192.4 L242.7,212.0M162.7,216.7 L172.0,226.0 L180.0,230.7" stroke="#111" stroke-width="3.3600000000000003" fill="none"/>
<path d="M213.3,195.3 L238.7,215.3 L244.0,216.7M180.0,230.7C182.2,230.4 189.8,230.1 193.3,229.3C196.9,228.6 199.1,227.9 201.3,226.0C203.6,224.1 205.1,219.8 206.7,218.0C208.2,216.2 209.3,215.6 210.7,215.3C212.0,215.1 214.0,216.4 214.7,216.7M180.0,230.7 L179.3,242.0M189.3,231.3 L188.7,240.7M168.0,214.0 L173.3,218.0M244.0,210.0 L250.7,207.3 L253.3,204.7" stroke="#111" stroke-width="2.1" fill="none"/>
<path d="M204.0,223.3 L210.7,217.3M190.7,235.3 L202.7,226.7" stroke="#111" stroke-width="3.6400000000000006" fill="none"/>
<path d="M152.0,210.0C152.4,209.8 153.6,207.8 154.7,208.7C155.8,209.6 158.1,210.9 158.7,215.3C159.2,219.8 158.7,231.8 158.0,235.3C157.3,238.9 155.2,236.4 154.7,236.7M149.3,216.7 L153.3,215.3 L153.3,231.3 L150.0,232.7M160.0,215.3 L164.0,215.3M160.0,223.3 L162.7,223.3" stroke="#111" stroke-width="1.9600000000000002" fill="none"/>
<path d="M253.3,204.7 L258.7,208.7M246.7,212.7 L250.7,216.7" stroke="#111" stroke-width="1.8200000000000003" fill="none"/>
<path d="M232.0,228.0 L265.3,215.3 L266.0,218.0 L260.0,223.3 L246.7,230.0 L236.0,233.3 L232.0,231.3Z" stroke="#000" stroke-width="1.8200000000000003" fill="#000"/>
<path d="M234.7,230.0 L241.3,227.6M245.3,226.0 L254.7,222.0" stroke="#fff" stroke-width="1.54" fill="none"/>
</g>
<g id="p2b">
<path d="M710.3,171.3C711.4,171.8 714.6,173.5 717.0,174.0C719.4,174.5 722.6,175.1 725.0,174.4C727.4,173.7 729.4,172.2 731.7,170.0C733.9,167.8 736.1,164.0 738.3,161.3C740.6,158.7 742.8,155.9 745.0,154.0C747.2,152.1 749.2,150.8 751.7,150.0C754.1,149.2 757.2,149.0 759.7,149.3C762.1,149.7 763.2,150.2 766.3,152.0C769.4,153.8 774.6,157.4 778.3,160.0C782.1,162.6 787.2,166.1 789.0,167.3M707.7,190.7C709.0,191.6 713.0,194.7 715.7,196.0C718.3,197.3 720.8,198.6 723.7,198.7C726.6,198.8 730.1,197.8 733.0,196.7C735.9,195.6 738.6,194.1 741.0,192.0C743.4,189.9 745.9,186.7 747.7,184.0C749.4,181.3 750.6,177.8 751.7,176.0C752.8,174.2 753.2,173.6 754.3,173.1C755.4,172.5 756.6,172.0 758.3,172.7C760.1,173.4 762.8,176.0 765.0,177.3C767.2,178.7 769.4,179.9 771.7,180.7C773.9,181.4 777.2,181.8 778.3,182.0M747.7,182.7 L753.0,175.3M735.7,190.7 L746.3,184.0" stroke="#111" stroke-width="3.0" fill="none"/>
<path d="M751.7,151.3 L759.7,150.9 L786.3,170.0M709.0,172.0 L722.3,186.0M723.0,186.7 L741.0,186.0" stroke="#111" stroke-width="3.25" fill="none"/>
<path d="M759.7,154.7 L783.7,171.3 L789.0,172.7M725.0,186.7C727.2,186.6 735.0,186.7 738.3,186.0C741.7,185.3 743.0,184.3 745.0,182.7C747.0,181.0 748.8,177.6 750.3,176.0C751.9,174.4 753.7,173.8 754.3,173.3M725.0,187.3 L725.0,197.3M734.3,186.7 L733.0,196.7M711.7,171.3 L718.3,176.0M789.0,167.3 L795.7,166.0 L798.3,162.7M697.0,168.7C697.6,168.4 699.1,166.6 700.3,167.3C701.6,168.1 703.8,169.4 704.3,173.3C704.9,177.2 704.3,187.4 703.7,190.7C703.0,193.9 700.9,192.3 700.3,192.7M695.0,174.7 L699.0,173.3 L699.0,188.0 L695.7,189.3M707.0,173.3 L710.3,173.3M707.0,181.3 L709.0,181.3" stroke="#111" stroke-width="2.0" fill="none"/>
<path d="M693.0,173.3C693.6,170.2 694.3,166.9 695.7,165.3C697.0,163.8 699.3,163.6 701.0,164.0C702.7,164.4 704.6,166.2 705.7,168.0C706.8,169.8 707.4,171.8 707.7,174.7C707.9,177.6 707.4,182.2 707.0,185.3C706.6,188.4 706.2,191.7 705.0,193.3C703.8,195.0 701.3,195.6 699.7,195.3C698.0,195.1 696.2,193.9 695.0,192.0C693.8,190.1 692.7,187.1 692.3,184.0C692.0,180.9 692.4,176.4 693.0,173.3ZM798.3,160.0C798.8,159.6 799.7,157.4 801.0,157.3C802.3,157.2 804.8,158.2 806.3,159.3C807.9,160.4 809.7,162.4 810.3,164.0C811.0,165.6 810.3,167.9 810.3,168.7M810.3,168.7 L813.7,172.0 L813.0,175.3 L805.0,180.0 L791.7,186.0 L782.3,189.3 L778.3,187.3 L777.7,184.0 L783.7,180.7 L795.7,173.3M798.3,160.0 L799.7,168.0" stroke="#111" stroke-width="2.75" fill="none"/>
<path d="M801.0,162.7 L806.3,166.7M791.7,170.7 L795.7,174.7" stroke="#111" stroke-width="1.875" fill="none"/>
<path d="M778.3,185.1 L813.3,172.4 L813.7,174.9 L805.0,180.0 L791.7,186.0 L782.3,189.3 L778.3,187.7Z" stroke="#000" stroke-width="1.875" fill="#000"/>
<path d="M781.7,186.7 L798.3,180.0" stroke="#fff" stroke-width="1.375" fill="none"/>
<ellipse cx="789.0" cy="171.3" rx="1.3" ry="1.1" transform="rotate(0.0 789.0 171.3)" stroke="#111" stroke-width="1.875" fill="none"/>
</g>
<g id="p3a">
<path d="M261.4,296.0C261.3,294.4 262.5,292.8 263.6,291.7C264.6,290.6 266.1,289.9 267.9,289.4C269.6,289.0 271.8,288.9 274.3,288.9C276.8,288.8 279.5,288.5 282.9,289.0C286.2,289.5 291.1,290.6 294.3,291.7C297.5,292.8 300.3,294.2 302.1,295.7C304.0,297.2 305.0,298.6 305.4,300.7C305.9,302.9 305.9,306.5 305.0,308.6C304.1,310.6 302.0,312.0 300.0,312.9C298.0,313.7 295.7,314.0 292.9,313.6C290.0,313.1 286.4,311.8 282.9,310.0C279.3,308.2 274.5,304.3 271.4,302.9C268.3,301.4 266.0,302.6 264.3,301.4C262.6,300.3 261.5,297.6 261.4,296.0Z" stroke="#111" stroke-width="2.5" fill="none"/>
<path d="M266.0,297.4C266.7,296.4 268.6,294.3 271.4,293.6C274.2,292.8 279.0,292.5 282.9,292.9C286.7,293.2 291.2,294.3 294.3,295.7C297.4,297.1 300.5,299.3 301.4,301.4C302.4,303.6 301.4,307.1 300.0,308.6C298.6,310.0 295.7,310.5 292.9,310.0C290.0,309.5 286.0,307.1 282.9,305.7C279.8,304.3 276.9,302.4 274.3,301.4C271.7,300.5 268.5,300.7 267.1,300.0C265.8,299.3 265.3,298.5 266.0,297.4Z" stroke="#111" stroke-width="2.0" fill="none"/>
<path d="M267.1,301.4C268.3,301.7 271.7,301.7 274.3,302.9C276.9,304.0 279.8,307.1 282.9,308.6C286.0,310.0 290.0,311.5 292.9,311.7C295.7,312.0 298.8,310.3 300.0,310.0M293.6,324.3 L286.4,338.6M268.6,352.9 L282.9,339.3" stroke="#111" stroke-width="3.25" fill="none"/>
<path d="M278.6,290.0 L277.1,301.4M288.6,291.4 L287.1,310.0M294.3,293.6 L291.4,310.0M300.0,297.1 L298.6,310.0M262.9,307.1C264.3,308.1 268.1,310.7 271.4,312.9C274.8,315.0 280.0,318.6 282.9,320.0C285.7,321.4 286.2,321.4 288.6,321.4C291.0,321.4 294.8,321.2 297.1,320.0C299.5,318.8 301.9,315.2 302.9,314.3M261.4,297.1 L260.7,308.6M305.7,302.9 L302.9,315.7M287.1,310.0 L287.1,321.4M278.6,336.4 L284.3,335.7 L274.3,351.4 L265.7,357.1M278.6,336.4 L271.4,347.1 L260.0,357.1M284.3,335.7 L285.7,352.9M322.9,325.7C323.3,327.1 325.0,331.2 325.7,334.3C326.4,337.4 326.9,342.6 327.1,344.3M329.3,334.3 L330.0,340.0M225.7,352.9 L237.1,365.7 L241.4,366.4 L291.4,357.1 L292.9,354.3M231.4,354.3 L241.4,352.9 L247.1,358.6 L237.1,360.7ZM222.9,354.3 L235.7,366.4 L240.0,367.9 L291.4,358.6M242.9,349.3 L248.6,357.1 L260.0,357.1M247.1,358.6 L288.6,352.9" stroke="#111" stroke-width="1.875" fill="none"/>
<path d="M261.4,308.6C261.2,310.7 260.7,317.4 260.0,321.4C259.3,325.5 258.6,329.5 257.1,332.9C255.7,336.2 253.6,338.8 251.4,341.4C249.3,344.0 246.0,347.0 244.3,348.6C242.6,350.1 241.9,350.4 241.4,350.7M298.6,320.0C297.6,321.9 294.8,328.1 292.9,331.4C291.0,334.8 288.3,336.4 287.1,340.0C286.0,343.6 285.7,350.5 285.7,352.9C285.7,355.2 286.9,354.0 287.1,354.3M300.0,320.7C302.4,321.1 310.2,322.3 314.3,322.9C318.3,323.5 321.7,323.3 324.3,324.3C326.9,325.2 328.5,326.7 330.0,328.6C331.5,330.5 333.3,333.3 333.6,335.7C333.8,338.1 332.7,341.3 331.4,342.9C330.1,344.4 326.7,344.6 325.7,345.0M325.7,345.0 L311.4,347.1 L291.4,350.7M242.9,348.6 L225.7,351.4 L222.9,354.3 L222.9,358.6 L235.7,370.0 L240.0,371.4 L291.4,361.4 L293.6,358.6 L292.9,354.3 L288.6,351.4" stroke="#111" stroke-width="2.25" fill="none"/>
<path d="M263.6,310.0C263.3,311.9 262.9,317.6 262.1,321.4C261.4,325.2 259.8,331.0 259.3,332.9" stroke="#111" stroke-width="1.75" fill="none"/>
</g>
<g id="p3b">
<path d="M517.9,257.9C518.6,256.9 520.6,255.3 522.9,254.7C525.1,254.1 528.6,253.6 531.4,254.3C534.3,254.9 536.7,257.3 540.0,258.6C543.3,259.9 548.3,260.6 551.4,262.1C554.5,263.7 556.4,266.0 558.6,267.9C560.8,269.8 564.1,271.9 564.6,273.6C565.0,275.2 563.6,276.9 561.4,277.9C559.2,278.8 555.0,279.3 551.4,279.3C547.9,279.3 543.3,279.0 540.0,277.9C536.7,276.7 534.3,274.3 531.4,272.1C528.6,270.0 525.0,266.9 522.9,265.0C520.7,263.1 519.4,261.9 518.6,260.7C517.7,259.5 517.1,258.9 517.9,257.9Z" stroke="#111" stroke-width="3.75" fill="none"/>
<path d="M522.9,259.6C523.8,258.9 526.7,258.4 531.4,259.6C536.2,260.7 546.9,264.3 551.4,266.4C556.0,268.5 558.6,270.7 558.6,272.1C558.6,273.6 554.5,274.8 551.4,275.0C548.3,275.2 544.3,275.4 540.0,273.6C535.7,271.7 528.6,266.2 525.7,263.9C522.9,261.5 521.9,260.3 522.9,259.6ZM528.6,259.3 L527.1,266.4M535.7,260.7 L532.9,270.7M550.0,266.4 L547.1,276.4" stroke="#111" stroke-width="2.0" fill="none"/>
<path d="M518.6,260.7 L518.9,275.4 L519.3,279.6 L532.9,293.1 L536.0,296.3 L543.3,296.3 L554.9,294.3 L558.0,289.0 L561.1,284.9 L562.1,277.4M558.0,289.3C557.5,291.0 556.8,296.2 555.0,299.3C553.2,302.4 550.1,305.5 547.1,307.9C544.2,310.2 540.0,311.9 537.1,313.6C534.3,315.2 531.7,316.2 530.0,317.9C528.3,319.5 527.4,321.7 527.1,323.6C526.9,325.5 528.3,328.3 528.6,329.3M485.7,321.4 L477.1,323.6 L475.7,329.3 L488.6,340.7 L494.3,342.1 L538.6,333.6 L540.7,329.3 L531.4,319.3 L528.6,320.7M500.0,330.7C500.5,329.8 501.0,326.9 502.9,325.0C504.8,323.1 509.0,320.5 511.4,319.3C513.8,318.1 516.0,317.6 517.1,317.9C518.3,318.1 519.0,318.8 518.6,320.7C518.1,322.6 515.0,327.9 514.3,329.3M507.1,323.6 L511.4,329.3M511.4,320.0 L510.0,326.4" stroke="#111" stroke-width="2.25" fill="none"/>
<path d="M519.3,275.4 L533.9,288.0 L537.0,286.9 L545.4,285.9 L560.1,283.7M537.0,281.7 L535.0,295.3M545.4,282.7 L544.4,295.3" stroke="#111" stroke-width="1.875" fill="none"/>
<path d="M518.6,276.4C518.3,277.9 518.3,282.1 517.1,285.0C516.0,287.9 513.8,290.7 511.4,293.6C509.0,296.4 505.7,299.5 502.9,302.1C500.0,304.8 496.7,306.9 494.3,309.3C491.9,311.7 490.0,313.8 488.6,316.4C487.1,319.0 486.2,323.6 485.7,325.0" stroke="#111" stroke-width="2.75" fill="none"/>
<path d="M480.0,325.0 L492.9,333.6 L537.1,328.6 L530.0,320.7" stroke="#111" stroke-width="3.0" fill="none"/>
<path d="M476.4,327.1 L489.3,337.9 L495.0,339.3 L539.3,331.0M495.0,339.3 L494.3,342.1" stroke="#111" stroke-width="1.75" fill="none"/>
</g>
<g id="p4a">
<path d="M365.0,378.0 L367.0,376.0 L432.0,365.0 L435.0,365.6 L452.0,382.0M452.0,382.0C455.3,385.0 464.0,394.0 472.0,400.0C480.0,406.0 487.0,409.7 500.0,418.0C513.0,426.3 541.7,444.7 550.0,450.0M365.0,378.0 L363.6,394.0 L367.0,397.0" stroke="#111" stroke-width="2.01875" fill="none"/>
<path d="M371.0,379.0 L428.0,368.0 L433.0,366.0M366.0,380.0C368.3,381.2 371.0,384.0 380.0,387.0C389.0,390.0 408.0,394.7 420.0,398.0C432.0,401.3 446.7,405.5 452.0,407.0M452.0,407.0 L456.0,406.0 L474.0,402.4M367.0,384.0C369.2,385.0 371.2,387.1 380.0,390.0C388.8,392.9 408.0,398.1 420.0,401.6C432.0,405.1 446.7,409.4 452.0,411.0M367.0,380.0 L367.0,397.0M452.0,407.0 L451.0,438.0M456.0,407.0 L500.0,434.0 L538.0,459.0M453.0,412.0 L500.0,440.0 L534.0,464.0M354.0,405.0 L370.0,402.4 L380.0,407.0 L362.0,408.6ZM396.0,414.0 L406.0,425.0 L430.0,431.0 L440.0,433.0M533.0,470.0 L533.0,488.0" stroke="#111" stroke-width="1.4875" fill="none"/>
<path d="M363.6,395.0C368.0,397.5 380.6,404.8 390.0,410.0C399.4,415.2 409.8,421.3 420.0,426.0C430.2,430.7 445.8,436.0 451.0,438.0M451.0,438.0 L480.0,458.0 L528.0,489.0" stroke="#111" stroke-width="1.80625" fill="none"/>
<path d="M396.0,414.0 L451.0,436.0 L528.0,487.0" stroke="#111" stroke-width="1.275" fill="none"/>
<path d="M380.0,406.0 L396.0,414.4" stroke="#111" stroke-width="2.7624999999999997" fill="none"/>
</g>
<g id="p4b">
<path d="M550.3,451.3C551.3,452.0 553.8,453.4 556.6,455.5C559.4,457.6 563.2,459.9 567.0,463.9C570.9,467.9 575.4,474.9 579.6,479.6C583.8,484.3 588.7,489.0 592.2,492.2C595.7,495.3 596.7,496.2 600.6,498.5C604.4,500.7 612.8,504.6 615.2,505.8" stroke="#111" stroke-width="2.125" fill="none"/>
<path d="M537.7,460.8 L554.5,456.6M531.4,514.2 L598.5,498.5 L615.2,506.9M527.2,521.5 L528.3,531.0 L590.1,569.7M590.1,569.7C591.8,570.4 597.4,573.9 600.6,573.9C603.7,573.9 606.2,571.8 609.0,569.7C611.7,567.6 614.5,566.9 617.3,561.3C620.1,555.7 623.8,542.8 625.7,536.2C627.6,529.6 628.3,524.0 628.9,521.5M613.1,562.4 L619.4,563.4 L671.8,549.8 L680.2,548.8M619.4,561.3C620.5,558.9 624.0,552.6 625.7,546.7C627.5,540.7 629.2,529.2 629.9,525.7" stroke="#111" stroke-width="1.4875" fill="none"/>
<path d="M537.7,460.8C538.6,461.1 541.7,461.1 543.0,462.9C544.2,464.6 545.6,468.1 545.0,471.2C544.5,474.4 542.4,477.9 539.8,481.7C537.2,485.6 531.6,490.4 529.3,494.3C527.1,498.1 525.8,501.4 526.2,504.8C526.5,508.1 529.9,512.5 531.4,514.2C533.0,515.9 534.9,514.7 535.6,514.8M533.5,465.0C534.4,465.7 538.1,466.7 538.8,469.1C539.5,471.6 539.6,475.8 537.7,479.6C535.8,483.5 530.0,488.3 527.2,492.2C524.4,496.0 522.0,499.2 521.0,502.7C519.9,506.2 519.9,510.0 521.0,513.1C522.0,516.3 526.2,520.1 527.2,521.5M535.6,515.2 L562.9,534.1 L590.1,549.8M590.1,549.8C591.5,549.8 596.0,551.0 598.5,549.8C600.9,548.6 602.3,547.9 604.8,542.5C607.2,537.1 610.5,525.7 613.1,517.3C615.8,509.0 619.3,496.4 620.5,492.2M626.3,472.9C626.6,474.0 627.4,474.0 628.0,479.7C628.6,485.4 629.3,499.9 629.7,507.1C630.1,514.4 630.2,520.5 630.3,523.1M628.0,479.7C629.0,479.4 632.3,478.5 634.3,478.0C636.3,477.5 638.1,477.4 640.0,476.9C641.9,476.3 644.8,475.0 645.7,474.6M636.6,470.6C636.2,472.9 634.8,478.4 634.3,484.3C633.8,490.2 633.8,502.4 633.7,506.0M644.6,472.9C644.4,474.8 643.8,478.6 643.4,484.3C643.0,490.0 642.5,503.3 642.3,507.1M646.9,475.1C647.0,476.7 647.4,479.0 648.0,484.3C648.6,489.6 649.9,503.3 650.3,507.1M634.3,506.0C635.3,505.2 638.5,505.4 640.0,506.0C641.5,506.6 642.7,508.1 643.4,509.4C644.2,510.8 645.1,512.9 644.6,514.0C644.0,515.1 641.5,516.1 640.0,516.3C638.5,516.5 636.5,516.1 635.4,515.1C634.4,514.2 633.9,512.1 633.7,510.6C633.5,509.0 633.2,506.8 634.3,506.0ZM642.3,507.1C643.2,507.7 646.5,509.0 648.0,510.6C649.5,512.1 650.9,515.3 651.4,516.3M668.6,470.6C670.1,469.6 673.1,466.5 677.7,464.9C682.3,463.2 693.0,461.5 696.0,460.9M677.7,462.6C677.9,465.2 679.0,473.0 678.9,478.6C678.7,484.1 677.2,489.6 676.6,495.7C675.9,501.8 675.1,511.9 674.9,515.1M678.9,478.6C679.8,478.8 683.2,480.7 684.6,479.7C685.9,478.8 685.7,475.1 686.9,472.9C688.0,470.6 689.7,467.7 691.4,466.0C693.1,464.3 696.2,463.1 697.1,462.6M680.0,470.6 L685.7,474.0M683.4,480.9 L689.1,495.7 L694.3,507.1M682.3,479.7C681.7,482.4 679.8,489.8 678.9,495.7C677.9,501.6 677.0,511.9 676.6,515.1M688.0,515.1C688.2,514.2 688.4,511.0 689.1,509.4C689.9,507.9 692.0,506.6 692.6,506.0M653.7,504.9C655.0,505.0 659.4,505.2 661.7,506.0C664.0,506.8 665.7,507.9 667.4,509.4C669.1,511.0 671.2,514.2 672.0,515.1M654.9,515.1C656.0,514.2 660.2,510.8 661.7,509.4C663.2,508.1 663.6,507.5 664.0,507.1M657.1,517.4 L670.9,514.0" stroke="#111" stroke-width="1.7" fill="none"/>
<path d="M603.1,546.7 L611.5,521.5 L619.8,494.3" stroke="#111" stroke-width="2.7624999999999997" fill="none"/>
<path d="M531.4,519.4 L562.9,539.3 L590.1,556.1M590.1,556.1C591.8,556.3 597.4,558.7 600.6,557.1C603.7,555.6 606.2,551.9 609.0,546.7C611.7,541.4 615.9,529.2 617.3,525.7" stroke="#111" stroke-width="1.59375" fill="none"/>
<path d="M519.9,517.3C519.7,518.4 518.0,521.3 518.9,523.6C519.7,525.9 524.1,529.7 525.1,531.0M525.1,531.0 L562.9,555.0 L590.1,572.9M590.1,572.9C591.8,573.7 597.1,577.6 600.6,578.1C604.1,578.6 609.3,576.4 611.0,576.0M611.0,576.0 L663.4,563.4M663.4,563.4C665.2,562.9 671.1,562.0 673.9,560.3C676.7,558.5 678.4,557.0 680.2,553.0C681.9,548.9 683.2,542.1 684.4,536.2C685.6,530.3 687.0,520.5 687.5,517.3" stroke="#111" stroke-width="1.9124999999999999" fill="none"/>
<path d="M620.6,483.1C620.8,482.0 621.0,478.1 621.7,476.3C622.5,474.5 623.4,473.3 625.1,472.3C626.9,471.2 629.5,470.6 632.0,470.0C634.5,469.4 637.5,469.0 640.0,468.9C642.5,468.7 645.2,468.5 646.9,468.9C648.5,469.2 649.0,469.5 649.7,471.1C650.4,472.8 650.5,475.4 650.9,478.6C651.2,481.7 651.6,486.4 652.0,490.0C652.4,493.6 653.0,498.6 653.1,500.3M653.1,500.3 L653.7,518.6M620.6,483.1 L619.9,493.4M664.0,472.9C664.8,471.9 666.3,469.0 668.6,467.1C670.9,465.3 674.7,463.2 677.7,462.0C680.8,460.8 683.8,460.4 686.9,460.1C689.9,459.7 694.1,459.5 696.0,459.7C697.9,459.9 697.8,460.6 698.3,461.4C698.8,462.3 698.8,464.3 698.9,464.9M698.9,464.9C698.8,467.1 698.7,473.4 698.3,478.6C697.9,483.7 697.1,491.0 696.6,495.7C696.0,500.5 695.5,504.5 694.9,507.1C694.2,509.8 693.7,510.4 692.6,511.7C691.4,513.0 688.8,514.6 688.0,515.1M688.0,515.1 L673.1,516.3M688.0,516.3 L685.7,523.1 L682.3,541.4 L680.0,550.0" stroke="#111" stroke-width="2.55" fill="none"/>
<path d="M619.7,493.4 L628.6,518.6M653.1,499.1 L659.4,484.3 L664.0,472.9" stroke="#111" stroke-width="2.975" fill="none"/>
<path d="M629.7,523.1 L633.1,527.7 L652.6,523.1 L664.0,521.4 L685.7,520.9" stroke="#111" stroke-width="2.3375" fill="none"/>
</g>
<g id="p6a">
<path d="M234.6,757.9C239.3,756.7 255.7,752.5 262.9,750.6C270.0,748.7 274.0,747.0 277.5,746.4C281.0,745.8 281.0,745.9 283.8,746.8C286.6,747.7 290.8,749.9 294.3,751.6C297.8,753.4 301.6,756.0 304.8,757.3C307.9,758.6 309.7,759.0 313.1,759.4C316.6,759.7 320.1,760.1 325.7,759.4C331.3,758.6 337.2,757.0 346.7,754.8C356.1,752.5 370.1,748.8 382.3,746.0C394.5,743.2 413.7,739.3 420.0,738.0M229.3,773.6C233.2,775.7 245.7,783.0 252.4,786.2C259.0,789.3 263.9,791.2 269.1,792.5C274.4,793.8 277.2,794.2 283.8,794.2C290.4,794.2 299.9,793.6 309.0,792.5C318.0,791.3 328.5,789.2 338.3,787.2C348.1,785.3 354.0,784.3 367.6,781.0C381.2,777.6 411.3,769.6 420.0,767.3" stroke="#111" stroke-width="2.025" fill="none"/>
<path d="M217.8,759.0 L225.1,755.8 L233.5,756.9 L234.6,759.0 L227.2,762.1 L221.0,763.1ZM227.2,762.1 L228.3,769.4 L231.4,773.6 L237.7,777.8M231.4,761.0 L231.4,773.6M283.8,782.0 L288.0,778.9 L346.7,764.2 L420.0,743.2M290.1,782.0 L346.7,767.3 L420.0,746.8M232.9,760.8C234.8,762.0 240.0,765.3 244.2,767.8C248.4,770.2 253.8,773.6 258.0,775.7C262.2,777.8 265.9,779.3 269.4,780.3C272.8,781.4 275.5,781.5 278.6,782.0C281.7,782.5 282.2,782.9 288.0,783.3C293.8,783.6 304.8,784.5 313.1,784.1C321.5,783.7 329.2,782.7 338.3,781.0C347.4,779.2 354.0,777.3 367.6,773.6C381.2,770.0 411.3,761.4 420.0,759.0" stroke="#111" stroke-width="1.6875" fill="none"/>
<path d="M256.6,778.2 L255.5,786.6M278.6,783.0 L277.5,793.5M288.0,784.1 L287.0,793.5M338.3,781.0 L337.2,787.2" stroke="#111" stroke-width="1.575" fill="none"/>
<path d="M280.9,795.0 L299.1,804.2 L307.1,810.1 L319.6,806.1 L320.3,803.8 L310.6,797.5 L308.3,795.0M301.4,803.2 L309.0,799.2 L310.6,797.5" stroke="#111" stroke-width="1.8" fill="none"/>
<ellipse cx="226.2" cy="758.5" rx="1.7" ry="1.0" transform="rotate(0.0 226.2 758.5)" stroke="#111" stroke-width="1.6875" fill="none"/>
<ellipse cx="311.0" cy="805.5" rx="1.5" ry="1.0" transform="rotate(0.0 311.0 805.5)" stroke="#111" stroke-width="1.8" fill="none"/>
</g>
<g id="p6b">
<path d="M423.0,716.7C423.6,716.0 423.7,713.9 426.2,712.5C428.6,711.1 433.3,709.2 437.7,708.3C442.1,707.3 447.1,707.3 452.4,706.8C457.6,706.3 464.6,705.1 469.1,705.1C473.7,705.2 475.4,706.0 479.6,707.2C483.8,708.5 491.8,711.6 494.3,712.5M494.3,712.5 L515.2,712.5 L546.7,711.0 L555.0,710.4 L580.2,718.8 L592.8,727.1 L597.0,732.4 L595.9,734.9M423.0,716.7C423.2,717.7 423.0,720.9 424.1,723.0C425.1,725.0 426.4,727.8 429.3,729.2C432.3,730.6 439.8,731.0 441.9,731.3M441.9,731.3 L479.6,725.0 L489.0,724.0 L488.0,721.9 L479.6,720.9M479.6,720.9C475.1,721.0 459.4,722.1 452.4,721.9C445.4,721.7 441.9,721.0 437.7,719.8C433.5,718.6 429.0,715.4 427.2,714.6M419.9,767.0 L462.9,756.5 L515.2,742.9" stroke="#111" stroke-width="2.025" fill="none"/>
<path d="M437.7,719.8 L436.7,730.3M419.9,738.0 L441.9,732.4M419.9,743.5 L462.9,734.5 L534.1,721.9 L571.8,720.9M419.9,747.5 L462.9,738.7 L538.3,725.0 L546.7,723.0M419.9,758.6 L462.9,748.1 L550.9,732.4M515.2,712.5 L534.1,720.9 L550.9,731.3 L554.0,737.6M546.7,711.4 L573.9,721.9 L588.6,730.3M550.9,731.3 L588.6,730.3 L597.0,732.4M554.0,737.6 L588.6,735.5 L595.9,734.9M534.1,720.9 L573.9,721.9" stroke="#111" stroke-width="1.575" fill="none"/>
<path d="M556.1,735.9 L586.5,735.1" stroke="#111" stroke-width="2.7" fill="none"/>
<path d="M515.2,741.8 L542.5,738.7 L543.5,742.9 L550.9,747.0 L546.7,750.2 L536.2,749.1 L527.8,743.9 L515.2,742.9" stroke="#111" stroke-width="1.6875" fill="none"/>
<ellipse cx="542.5" cy="747.5" rx="1.5" ry="1.0" transform="rotate(0.0 542.5 747.5)" stroke="#111" stroke-width="1.6875" fill="none"/>
</g>
<g id="p7a">
<path d="M359.1,818.9C362.9,817.6 372.0,815.0 381.4,811.1C390.9,807.3 404.3,800.4 415.7,795.7C427.1,791.0 438.6,786.6 450.0,782.9C461.4,779.1 475.7,775.7 484.3,773.4C492.9,771.1 498.6,769.9 501.4,769.1M427.7,824.9 L510.0,794.0M355.1,829.1C354.2,830.1 349.8,832.8 349.4,834.9C349.0,837.0 350.8,840.0 352.9,841.7C355.0,843.4 358.2,844.6 362.0,845.1C365.8,845.7 370.4,845.9 375.7,845.1C381.0,844.4 388.3,842.5 394.0,840.6C399.7,838.7 407.3,834.9 410.0,833.7" stroke="#111" stroke-width="2.025" fill="none"/>
<path d="M419.1,794.5 L467.1,778.2 L501.4,768.6M371.1,831.7 L370.3,850.6M360.9,830.0 L359.1,843.7M359.1,845.4C361.4,845.7 366.3,847.7 372.9,847.1C379.4,846.6 391.4,844.1 398.6,842.0C405.7,839.9 412.9,835.6 415.7,834.3M352.9,825.7C351.5,827.0 346.4,831.2 344.9,833.7C343.3,836.2 343.0,838.5 343.7,840.6C344.5,842.7 346.4,844.8 349.4,846.3C352.5,847.8 357.6,849.3 362.0,849.7C366.4,850.1 371.1,849.3 375.7,848.6C380.3,847.8 384.1,846.7 389.4,845.1C394.8,843.6 402.8,841.7 407.7,839.4C412.7,837.1 417.2,832.8 419.1,831.4" stroke="#111" stroke-width="2.7" fill="none"/>
<path d="M359.1,818.9 L360.9,821.4 L372.9,826.6 L396.9,820.6 L395.1,816.3 L384.9,810.3M372.9,826.6 L372.9,831.7M396.9,820.6 L398.6,824.9M393.4,815.4 L424.3,801.7 L426.9,802.6 L425.1,804.3 L396.9,817.1M398.6,824.9 L419.1,816.3 L450.0,804.3 L510.0,780.3M422.6,816.3C423.0,817.1 424.6,820.0 425.1,821.4C425.7,822.9 425.9,824.3 426.0,824.9" stroke="#111" stroke-width="1.6875" fill="none"/>
<path d="M360.9,820.6C360.0,821.0 358.9,821.3 355.7,823.1C352.6,825.0 344.9,829.1 342.0,831.7C339.1,834.3 339.0,836.6 338.6,838.6C338.1,840.6 338.3,842.0 339.4,843.7C340.6,845.4 341.9,847.3 345.4,848.9C349.0,850.4 356.0,852.4 360.9,853.1C365.7,853.9 370.3,853.9 374.6,853.1C378.9,852.4 381.1,850.7 386.6,848.9C392.0,847.0 401.7,844.3 407.1,842.0C412.6,839.7 416.4,837.4 419.1,835.1C421.9,832.9 422.9,830.6 423.4,828.3C424.0,826.0 423.3,823.4 422.6,821.4C421.9,819.4 419.7,817.1 419.1,816.3M370.0,831.4 L370.0,850.9M359.7,829.1 L358.6,844.0" stroke="#111" stroke-width="2.9250000000000003" fill="none"/>
<path d="M343.7,837.7C344.0,838.6 344.0,841.4 345.4,842.9C346.9,844.3 348.3,845.4 352.3,846.3C356.3,847.1 363.1,848.3 369.4,848.0C375.7,847.7 383.7,846.1 390.0,844.6C396.3,843.0 402.3,841.0 407.1,838.6C412.0,836.1 417.1,831.4 419.1,830.0M347.1,833.4C347.4,834.6 347.1,838.6 348.9,840.3C350.6,842.0 353.7,843.0 357.4,843.7C361.1,844.4 365.7,845.0 371.1,844.6C376.6,844.1 384.0,842.6 390.0,841.1C396.0,839.7 402.6,838.1 407.1,836.0C411.7,833.9 415.7,829.6 417.4,828.3M354.0,826.6C356.9,827.4 363.7,831.7 371.1,831.7C378.6,831.7 390.6,828.3 398.6,826.6C406.6,824.9 415.7,822.3 419.1,821.4M350.6,835.1C354.0,835.7 362.6,838.9 371.1,838.6C379.7,838.3 393.7,835.4 402.0,833.4C410.3,831.4 417.7,827.7 420.9,826.6M381.4,831.7 L381.4,842.0M398.6,826.6 L402.0,838.6M407.1,824.9 L410.6,836.9M355.7,824.9 L360.9,830.0" stroke="#111" stroke-width="1.575" fill="none"/>
<path d="M374.6,850.6 L384.9,857.4 L390.0,860.0 L400.3,856.6 L402.9,853.1 L398.6,849.7 L390.0,850.6M386.6,852.3 L390.0,855.7" stroke="#111" stroke-width="1.8" fill="none"/>
<path d="M373.4,848.6 L382.6,855.4 L389.4,860.6 L400.9,857.7 L403.1,854.3 L398.6,850.9 L389.4,850.3M383.7,853.1 L389.4,857.7" stroke="#111" stroke-width="2.475" fill="none"/>
<ellipse cx="393.4" cy="854.0" rx="1.5" ry="1.0" transform="rotate(0.0 393.4 854.0)" stroke="#111" stroke-width="1.8" fill="none"/>
</g>
<g id="p7b">
<path d="M490.0,770.0 L530.0,761.0 L582.0,750.0M490.0,800.0 L540.0,782.0 L548.0,780.0M572.9,750.7 L582.9,748.6 L597.1,747.1M554.3,772.9C555.0,774.0 556.2,778.1 558.6,780.0C561.0,781.9 564.5,783.2 568.6,784.3C572.6,785.4 577.6,786.3 582.9,786.4C588.1,786.5 594.8,786.1 600.0,785.0C605.2,783.9 611.9,780.8 614.3,780.0M567.1,778.6C569.3,779.2 574.5,781.9 580.0,782.1C585.5,782.4 593.8,781.3 600.0,780.0C606.2,778.7 611.9,776.2 617.1,774.3C622.4,772.4 629.0,769.5 631.4,768.6M548.6,770.0C549.5,769.4 550.7,767.4 554.3,766.4C557.9,765.5 567.4,764.6 570.0,764.3" stroke="#111" stroke-width="2.025" fill="none"/>
<path d="M490.0,773.2 L582.0,753.2M572.9,753.3 L582.9,751.4 L597.1,749.3" stroke="#111" stroke-width="2.7" fill="none"/>
<path d="M490.0,788.0 L540.0,774.0 L550.0,770.0" stroke="#111" stroke-width="1.6875" fill="none"/>
<path d="M582.1,745.7 L587.1,744.0 L595.7,744.6 L598.6,747.1 L594.3,749.3 L584.3,748.6ZM669.3,759.3C669.6,760.4 671.2,763.6 671.4,765.7C671.7,767.9 670.8,771.1 670.7,772.1M635.7,764.3 L668.6,760.7M637.1,772.9 L668.6,772.1M632.9,764.3C633.3,765.0 635.1,767.0 635.7,768.6C636.3,770.1 636.3,772.7 636.4,773.6M630.0,765.0C630.6,765.7 633.0,767.7 633.6,769.3C634.2,770.8 633.6,773.5 633.6,774.3M607.1,751.4 L628.6,762.9M608.6,750.0 L640.0,750.0 L662.9,758.6M570.0,763.6 L587.1,759.3 L600.0,763.6 L582.9,768.6ZM582.9,768.6 L582.9,772.9M570.0,763.6 L570.7,767.4 L582.9,772.9M600.0,763.6 L625.7,760.7 L631.4,764.3M582.9,771.4 L604.3,767.9 L628.6,764.3M580.0,772.9 L580.0,782.9M590.0,775.7 L590.0,784.3M604.3,772.9 L605.7,782.9M614.3,771.4 L617.1,778.6M558.6,770.0 L561.4,777.1M620.0,780.0 L628.6,787.1 L632.9,791.4 L641.4,790.0 L640.0,787.1 L631.4,782.9 L625.7,778.6" stroke="#111" stroke-width="1.8" fill="none"/>
<path d="M598.6,747.9 L620.0,747.9 L628.6,746.4 L640.0,747.4M640.0,747.4C641.2,748.0 643.6,749.2 647.1,750.7C650.7,752.2 657.9,755.1 661.4,756.4C665.0,757.7 667.4,758.2 668.6,758.6" stroke="#111" stroke-width="3.825" fill="none"/>
<path d="M668.6,758.6C669.5,758.7 672.7,758.5 674.3,759.3C675.8,760.1 677.4,762.0 677.9,763.6C678.3,765.1 678.0,767.1 677.1,768.6C676.3,770.0 674.3,771.5 672.9,772.1C671.4,772.7 669.3,772.1 668.6,772.1" stroke="#111" stroke-width="2.475" fill="none"/>
<path d="M598.6,762.1 L625.7,760.0M587.1,772.9 L631.4,765.0" stroke="#111" stroke-width="2.9250000000000003" fill="none"/>
<path d="M548.6,770.0C548.8,771.4 548.6,776.0 550.0,778.6C551.4,781.2 554.0,783.8 557.1,785.7C560.2,787.6 564.3,788.9 568.6,790.0C572.9,791.1 578.1,791.9 582.9,792.1C587.6,792.4 592.4,792.0 597.1,791.4C601.9,790.8 607.6,789.8 611.4,788.6C615.2,787.4 617.6,786.0 620.0,784.3C622.4,782.6 624.8,779.5 625.7,778.6" stroke="#111" stroke-width="3.375" fill="none"/>
<path d="M568.6,767.1 L565.7,777.1" stroke="#111" stroke-width="3.15" fill="none"/>
<path d="M625.7,786.0 L632.9,791.4 L641.4,790.0 L640.0,787.1 L632.9,785.0Z" stroke="#000" stroke-width="1.8" fill="#000"/>
<ellipse cx="590.0" cy="746.4" rx="1.7" ry="1.0" transform="rotate(0.0 590.0 746.4)" stroke="#111" stroke-width="1.8" fill="none"/>
</g>
<g id="p8">
<path d="M597.6,696.8C598.1,696.3 598.9,694.2 600.7,693.7C602.4,693.2 603.7,693.2 608.3,693.7C612.9,694.2 621.0,695.6 628.1,696.8C635.2,697.9 644.6,699.3 651.0,700.6C657.3,701.8 661.1,702.9 666.2,704.4C671.3,705.9 676.9,707.9 681.4,709.7C686.0,711.5 690.6,713.5 693.6,715.0C696.7,716.6 698.7,718.2 699.7,718.9M597.6,696.8C597.7,697.8 597.6,701.1 598.4,702.9C599.1,704.6 600.3,706.3 602.2,707.4C604.1,708.6 608.5,709.3 609.8,709.7" stroke="#111" stroke-width="3.0" fill="none"/>
<path d="M602.2,707.4 L620.5,713.5 L641.8,721.1 L644.9,721.9 L654.0,719.9 L655.5,716.6M672.3,723.4C672.4,724.6 671.5,728.4 673.0,730.3C674.6,732.2 677.0,733.1 681.4,734.9C685.9,736.6 693.1,738.7 699.7,741.0C706.3,743.2 716.5,747.3 721.0,748.6C725.6,749.8 725.1,749.1 727.1,748.6C729.2,748.1 731.7,746.8 733.2,745.5C734.8,744.3 735.8,741.7 736.3,741.0M681.4,721.1C684.5,720.9 694.6,719.5 699.7,719.6C704.8,719.7 707.3,720.9 711.9,721.9C716.5,722.9 723.6,724.6 727.1,725.7C730.7,726.9 731.7,727.5 733.2,728.8C734.8,730.0 735.0,731.3 736.3,733.3C737.6,735.4 739.3,738.9 740.9,741.0C742.4,743.0 744.7,744.8 745.4,745.5" stroke="#111" stroke-width="2.5" fill="none"/>
<path d="M612.9,699.8 L615.9,704.4 L643.3,715.0 L654.0,712.8 L651.0,709.7 L628.1,702.9ZM617.4,699.8 L620.5,702.9 L646.4,712.0M644.9,715.8 L644.9,721.4M599.1,696.8 L612.9,699.8M632.7,698.3 L644.9,702.9 L654.0,705.9M651.0,700.6 L657.0,704.4 L678.4,712.0M655.5,716.6 L670.8,724.2M660.1,710.5 L675.3,713.8M684.5,727.2 L696.7,731.8 L722.6,741.0 L731.7,737.9 L730.2,733.3 L711.9,727.2 L696.7,724.2ZM681.4,730.3 L721.0,744.0 L724.1,748.6M722.6,741.0 L724.1,747.8M699.7,721.9 L727.1,730.3" stroke="#111" stroke-width="2.125" fill="none"/>
<path d="M635.7,704.4 L651.0,710.5M657.0,715.4 L675.3,713.8 L693.6,716.1M675.3,719.9 L696.7,720.5 L705.8,723.6M672.3,723.7 L681.4,725.1 L687.5,725.7" stroke="#111" stroke-width="3.25" fill="none"/>
<path d="M699.7,745.4C701.2,748.1 705.0,755.0 708.9,761.4C712.7,767.9 718.0,777.0 722.6,784.3C727.1,791.5 731.9,798.4 736.3,804.9C740.7,811.3 746.8,820.1 748.9,823.1M748.9,823.1C751.0,823.4 755.5,825.0 761.4,825.0C767.3,824.9 776.1,823.9 784.3,822.7C792.5,821.4 806.2,818.3 810.6,817.4M810.6,817.4C808.1,814.2 799.7,803.1 795.7,798.0C791.7,792.9 790.4,791.1 786.6,786.6C782.8,782.0 777.4,775.1 772.9,770.6C768.3,766.0 763.0,762.2 759.1,759.1C755.3,756.1 751.5,753.4 750.0,752.3" stroke="#111" stroke-width="1.7550000000000001" fill="none"/>
<path d="M754.6,756.9 L786.6,786.6" stroke="#111" stroke-width="2.34" fill="none"/>
<path d="M721.4,770.6C722.0,769.8 723.1,767.1 724.9,766.0C726.6,764.9 729.0,764.2 731.7,764.2C734.4,764.2 737.0,764.6 740.9,766.0C744.7,767.4 750.0,769.8 754.6,772.9C759.1,775.9 764.1,780.5 768.3,784.3C772.5,788.1 776.3,791.5 779.7,795.7C783.1,799.9 786.4,805.4 788.9,809.4C791.3,813.4 793.6,818.0 794.6,819.7M721.4,770.6C721.6,772.1 721.2,775.5 722.6,779.7C723.9,783.9 726.2,790.0 729.4,795.7C732.7,801.4 739.9,811.0 742.0,814.0M742.0,814.0C745.2,814.2 754.4,815.5 761.4,815.1C768.5,814.8 778.2,813.0 784.3,811.7C790.4,810.4 795.7,807.9 798.0,807.1M740.9,766.0C744.7,767.5 756.5,771.3 763.7,775.1C771.0,779.0 780.9,786.6 784.3,788.9M784.3,788.9 L803.7,818.6M699.7,745.4 L738.6,761.4M704.3,748.9 L736.3,760.3M731.7,747.7 L738.6,761.4 L745.4,763.7M736.3,747.7 L743.1,759.1" stroke="#111" stroke-width="1.4625000000000001" fill="none"/>
<path d="M743.1,745.4 L750.0,743.1 L759.1,746.6 L762.6,751.1 L754.6,753.4 L750.0,759.1 L745.4,754.6M750.0,745.4 L754.6,752.3M747.7,748.9 L759.1,748.9" stroke="#111" stroke-width="2.145" fill="none"/>
</g>
<g id="p9a">
<path d="M739.7,862.6C742.1,861.9 747.9,859.7 754.3,858.3C760.7,856.9 772.6,854.6 778.3,854.0C784.0,853.4 785.1,854.3 788.6,854.9C792.0,855.4 797.1,857.0 798.9,857.4M739.7,862.6 L748.3,876.3 L759.4,898.6 L771.4,918.3 L785.1,939.7M785.1,939.7C786.3,941.4 790.3,947.7 792.0,950.0C793.7,952.3 793.7,951.3 795.4,953.4C797.1,955.6 801.1,961.3 802.3,962.9M798.9,857.4 L809.1,870.3 L822.9,886.6 L840.0,908.9M840.0,908.9C841.1,910.3 844.9,914.6 846.9,917.4C848.9,920.3 850.6,922.6 852.0,926.0C853.4,929.4 854.4,933.7 855.4,938.0C856.4,942.3 857.4,947.7 858.0,951.7C858.6,955.7 859.0,959.4 858.9,962.0C858.7,964.6 857.4,966.3 857.1,967.1M771.4,918.3C774.3,922.1 784.6,935.6 788.6,941.4C792.6,947.3 793.7,949.7 795.4,953.4C797.1,957.1 797.9,961.1 798.9,963.7C799.9,966.3 801.0,968.0 801.4,968.9" stroke="#111" stroke-width="1.7550000000000001" fill="none"/>
<path d="M742.3,863.4C745.7,863.4 756.6,863.9 762.9,863.4C769.1,863.0 774.3,861.7 780.0,860.9C785.7,860.0 794.3,858.7 797.1,858.3M755.1,858.3 L757.7,863.4M779.1,854.9 L783.4,860.9M782.6,855.4 L788.6,866.9M802.3,962.9 L816.0,965.4 L840.0,968.9 L857.1,967.1" stroke="#111" stroke-width="1.4625000000000001" fill="none"/>
<path d="M748.3,875.4C750.7,875.7 757.6,877.2 762.9,877.1C768.1,877.1 774.9,875.8 780.0,874.9C785.1,874.1 789.6,872.9 793.7,872.0C797.9,871.1 803.0,870.1 804.9,869.8" stroke="#111" stroke-width="2.145" fill="none"/>
<path d="M797.1,859.1 L805.7,871.1 L840.0,911.4 L843.4,917.4M788.6,866.9 L805.7,895.1 L829.7,927.7 L840.0,939.7M771.4,918.3C773.7,919.3 780.0,922.6 785.1,924.3C790.3,926.0 797.1,927.8 802.3,928.6C807.4,929.4 811.4,929.2 816.0,929.1C820.6,928.9 827.4,927.9 829.7,927.7M840.9,910.6C841.0,912.9 841.9,919.4 841.7,924.3C841.6,929.1 840.6,935.4 840.0,939.7C839.4,944.0 839.4,946.6 838.3,950.0C837.1,953.4 834.6,957.4 833.1,960.3C831.7,963.1 830.3,966.0 829.7,967.1M846.9,917.4C847.0,920.0 847.7,927.4 847.7,932.9C847.7,938.3 846.7,945.1 846.9,950.0C847.0,954.9 847.4,958.3 848.6,962.0C849.7,965.7 852.9,970.6 853.7,972.3M840.0,941.4 L846.0,942.3M829.7,967.1 L831.4,975.7 L836.6,977.4 L853.7,975.7 L857.1,967.1M836.6,969.7 L835.7,976.6M852.0,968.9 L853.7,975.7" stroke="#111" stroke-width="1.365" fill="none"/>
<path d="M848.6,920.9C849.7,924.0 853.9,934.3 855.4,939.7C857.0,945.1 857.6,951.1 858.0,953.4" stroke="#111" stroke-width="2.34" fill="none"/>
</g>
<g id="p9b">
<path d="M857.0,975.1C860.5,976.4 872.4,980.0 878.0,982.5C883.6,984.9 886.4,986.5 890.6,989.8C894.8,993.1 898.3,997.8 903.1,1002.4C908.0,1006.9 914.3,1012.2 919.9,1017.0C925.5,1021.9 931.1,1026.8 936.7,1031.7C942.3,1036.6 948.9,1042.2 953.4,1046.4C958.0,1050.6 960.4,1053.4 963.9,1056.9C967.4,1060.3 971.2,1063.8 974.4,1067.3C977.5,1070.8 980.5,1074.3 982.8,1077.8C985.0,1081.3 987.0,1085.1 988.0,1088.3C989.0,1091.4 988.9,1095.3 989.0,1096.7" stroke="#111" stroke-width="2.145" fill="none"/>
<path d="M989.0,1096.7 L994.3,1103.0 L997.4,1109.2 L998.5,1128.1 L961.8,1138.6 L957.6,1137.5M800.5,962.6C801.2,965.7 802.9,975.1 804.7,981.4C806.4,987.7 808.9,994.0 811.0,1000.3C813.0,1006.6 815.1,1013.9 817.2,1019.1C819.3,1024.4 820.7,1027.9 823.5,1031.7C826.3,1035.6 829.1,1038.7 834.0,1042.2C838.9,1045.7 846.2,1048.8 852.9,1052.7C859.5,1056.5 866.8,1061.2 873.8,1065.2C880.8,1069.3 887.8,1073.6 894.8,1076.8C901.7,1079.9 909.1,1081.5 915.7,1084.1C922.3,1086.7 931.4,1091.1 934.6,1092.5" stroke="#111" stroke-width="1.7550000000000001" fill="none"/>
<path d="M838.2,979.3C842.4,981.3 856.7,987.4 863.3,990.9C870.0,994.3 872.8,996.6 878.0,1000.3C883.2,1004.0 888.5,1008.0 894.8,1012.9C901.0,1017.7 908.7,1023.7 915.7,1029.6C922.7,1035.6 930.7,1042.7 936.7,1048.5C942.6,1054.2 948.9,1061.6 951.3,1064.2M842.4,979.3C846.2,980.9 858.8,985.3 865.4,988.8C872.1,992.3 876.6,996.3 882.2,1000.3C887.8,1004.3 892.7,1008.0 899.0,1012.9C905.2,1017.7 912.9,1023.7 919.9,1029.6C926.9,1035.6 935.3,1042.9 940.9,1048.5C946.4,1054.1 951.3,1060.7 953.4,1063.1M865.4,990.9 L880.1,985.6M840.3,1046.4 L873.8,1063.1 L899.0,1075.7 L915.7,1084.1M812.0,1001.3C815.3,1001.0 825.4,998.5 831.9,999.2C838.4,999.9 847.6,1004.5 850.8,1005.5M852.9,1006.6 L855.0,1019.1M817.2,1018.1C819.0,1017.6 823.5,1015.1 827.7,1015.0C831.9,1014.8 836.4,1015.5 842.4,1017.0C848.3,1018.6 856.7,1021.9 863.3,1024.4C870.0,1026.8 879.0,1030.5 882.2,1031.7M819.3,1021.2 L852.9,1038.0 L884.3,1053.7" stroke="#111" stroke-width="1.365" fill="none"/>
<path d="M811.0,999.2C812.0,998.7 813.7,996.5 817.2,996.1C820.7,995.6 826.0,995.1 831.9,996.5C837.8,997.9 846.6,1001.4 852.9,1004.5C859.1,1007.5 865.1,1011.1 869.6,1015.0C874.2,1018.8 877.7,1023.0 880.1,1027.5C882.5,1032.1 883.2,1037.3 884.3,1042.2C885.3,1047.1 884.6,1052.7 886.4,1056.9C888.1,1061.0 889.9,1062.8 894.8,1067.3C899.7,1071.9 912.2,1081.3 915.7,1084.1M800.5,962.6 L831.9,977.2 L838.2,979.3 L842.4,979.3M800.5,962.6 L829.8,966.8 L857.0,975.1M794.2,950.0 L800.5,962.6" stroke="#111" stroke-width="1.56" fill="none"/>
<path d="M951.3,1064.2C952.0,1065.2 955.2,1068.6 955.5,1070.5C955.9,1072.4 954.5,1073.8 953.4,1075.7C952.4,1077.6 949.2,1079.2 949.2,1082.0C949.2,1084.8 951.7,1087.9 953.4,1092.5C955.2,1097.0 958.3,1103.3 959.7,1109.2C961.1,1115.2 961.5,1125.0 961.8,1128.1M961.8,1128.1 L961.8,1138.6M951.3,1064.2 L961.8,1059.0M934.6,1092.5 L951.3,1069.4M936.7,1107.1 L951.3,1084.1M934.6,1092.5 L932.5,1113.4 L933.5,1126.0 L957.6,1137.5 L957.6,1130.2 L934.6,1117.6M961.8,1117.6 L991.1,1105.0 L994.3,1103.0M961.8,1128.1 L997.4,1115.5M970.2,1066.3C971.6,1068.6 976.5,1074.8 978.6,1079.9C980.7,1085.0 981.9,1092.1 982.8,1096.7C983.6,1101.2 983.6,1105.4 983.8,1107.1M953.4,1075.7C954.1,1078.5 956.6,1086.9 957.6,1092.5C958.7,1098.1 959.4,1106.4 959.7,1109.2M943.0,1123.9 L949.2,1127.0 L949.2,1122.9 L943.0,1120.8Z" stroke="#111" stroke-width="1.6575" fill="none"/>
</g>

<g font-size="25.5" text-anchor="middle" style="mix-blend-mode:multiply">
<text x="306.8" y="36.7">1</text>
<text x="206.7" y="161.3">2</text>
<text x="754.9" y="110.7">2</text>
<text x="295" y="244">3</text>
<text x="520.7" y="209.7">3</text>
<text x="535" y="399">4</text>
<text x="639.7" y="399.5">5</text>
<text x="382.3" y="687.7">6</text>
<text x="496" y="890">7</text>
<text x="733" y="634">8</text>
<text x="838.6" y="836">9</text>
<text x="739" y="1063">10</text>
</g>
<g stroke="#333" stroke-width="1.1" fill="none">
<path d="M306.3,45.8 L305.4,68.7"/>
<path d="M205.3,170 L202.7,192.7"/>
<path d="M754.4,120 L754.4,148"/>
<path d="M295.4,253.6 L296.4,291.4"/>
<path d="M519.7,220 L517.9,255.7"/>
<path d="M534,409 L532.6,445"/>
<path d="M634.1,408.4 L594.3,518.4"/>
<path d="M649.8,406.3 L699,480.7"/>
<path d="M382.3,697.8 L382.7,745.3"/>
<path d="M496,803.4 L496,862.6"/>
<path d="M732.7,642.7 L733.7,727.5"/>
<path d="M839.5,845.4 L841.4,907.1"/>
<path d="M740.2,1073 L743.9,1128.8"/>
</g>

</g>
</svg>
</body></html>
